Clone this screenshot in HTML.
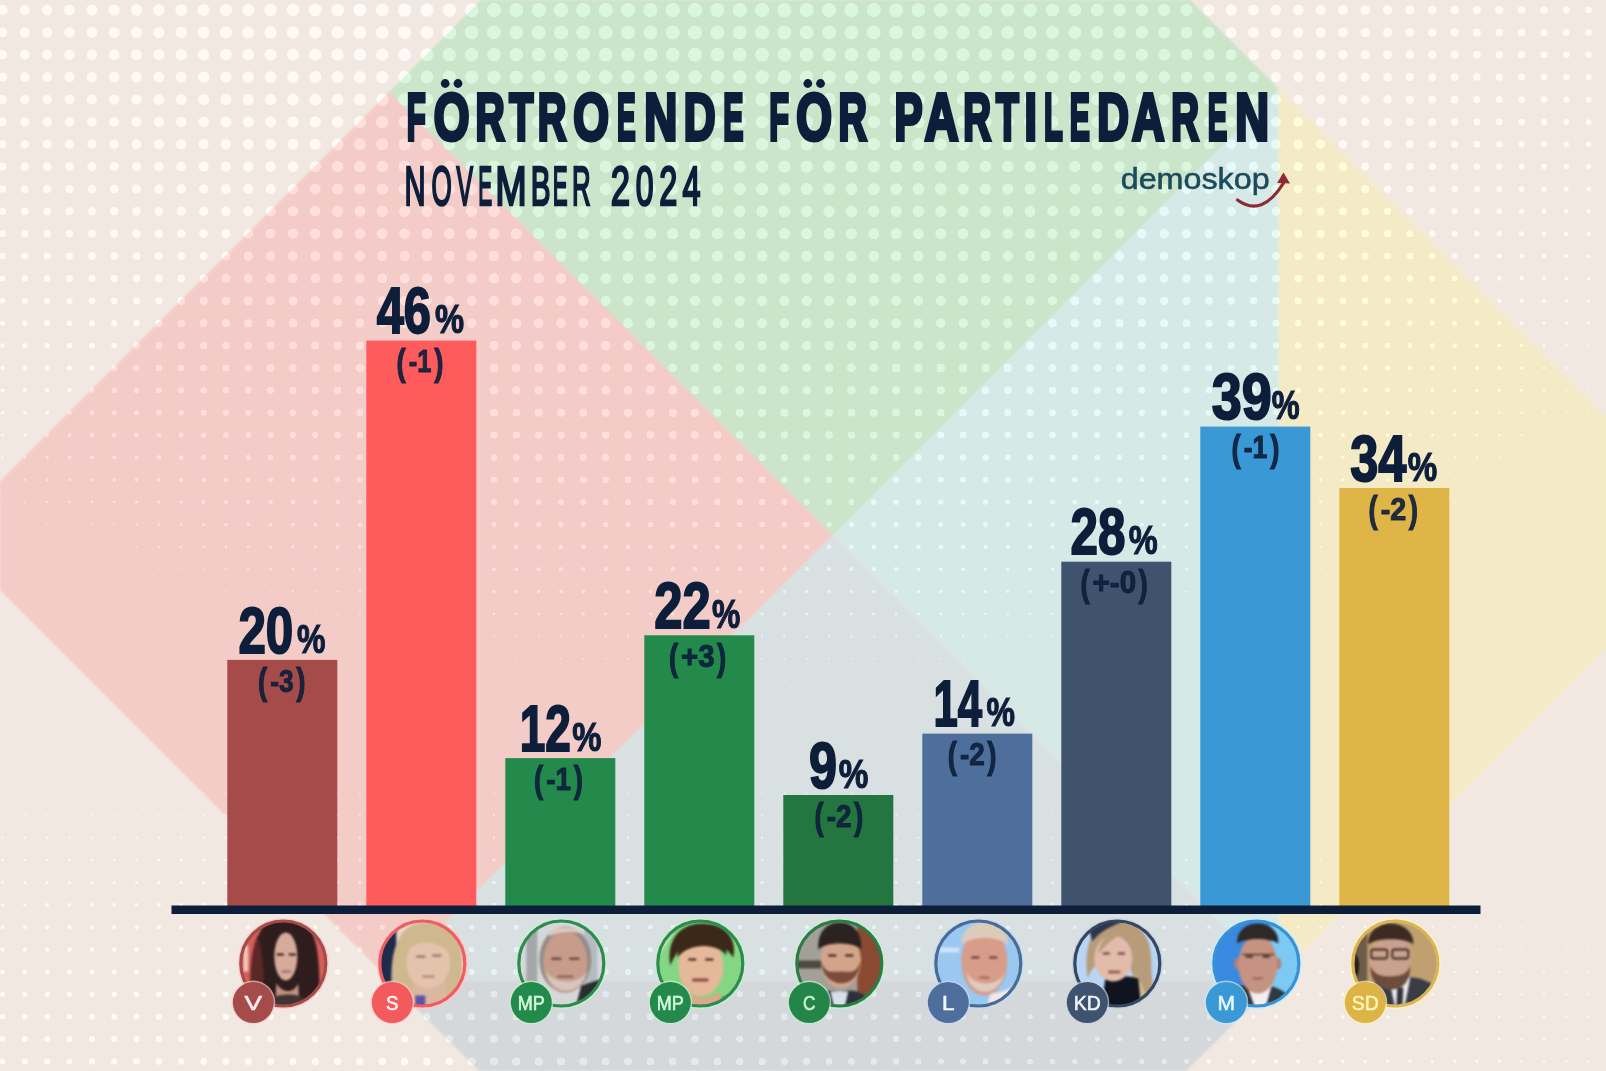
<!DOCTYPE html><html><head><meta charset="utf-8"><style>
html,body{margin:0;padding:0;width:1606px;height:1071px;overflow:hidden;background:#f1e8e2}
svg{position:absolute;left:0;top:0;display:block}.bg{filter:blur(1px)}.fg{will-change:transform}
</style></head><body>
<svg class="bg" width="1606" height="1071" viewBox="0 0 1606 1071">
<rect width="1606" height="1071" fill="#f1e8e2"/><polygon points="835.5,-354.5 1278.9,88.9 832.7,535.0 389.4,91.7" fill="#cae5ca"/><polygon points="389.4,91.7 832.7,535.0 388.9,978.9 -54.5,535.5" fill="#f3ccc7"/><polygon points="832.7,535.0 1276.9,979.5 832.0,1422.0 388.9,978.9" fill="#d9e0e2"/><polygon points="388.9,981.0 1276.9,981.0 832.0,1422.0" fill="#d4d8db"/><polygon points="1278.5,88.5 1278.5,980.8 832.7,535.0" fill="#d6e9e6"/><polygon points="1278.5,88.5 1722.0,532.0 1278.5,975.5" fill="#f4ebc6"/>
</svg>
<svg class="dots" width="1606" height="1071" viewBox="0 0 1606 1071"><defs><filter id="db" x="0" y="0" width="1606" height="1071" filterUnits="userSpaceOnUse" color-interpolation-filters="sRGB"><feGaussianBlur stdDeviation="0.75"/></filter><clipPath id="cg"><polygon points="835.5,-354.5 1278.9,88.9 832.7,535.0 389.4,91.7"/></clipPath><clipPath id="cp"><polygon points="389.4,91.7 832.7,535.0 388.9,978.9 -54.5,535.5"/></clipPath><clipPath id="cu"><polygon points="832.7,535.0 1276.9,979.5 832.0,1422.0 388.9,978.9"/></clipPath><clipPath id="cl"><polygon points="388.9,981.0 1276.9,981.0 832.0,1422.0"/></clipPath><clipPath id="cm"><polygon points="1278.5,88.5 1278.5,980.8 832.7,535.0"/></clipPath><clipPath id="cy"><polygon points="1278.5,88.5 1722.0,532.0 1278.5,975.5"/></clipPath><g id="dd" fill="none" stroke-linecap="round"><path d="M1611.0 412.7h0M158.9 569.2h0M292.9 614.0h0M1231.2 614.0h0M382.3 636.4h0M739.7 681.1h0M762.1 681.1h0M784.4 681.1h0M806.7 681.1h0M918.4 793.0h0M940.8 793.0h0M1164.2 815.3h0M1320.6 837.7h0M1454.6 860.1h0M1544.0 882.4h0" stroke-width="0.75"/><path d="M1566.3 435.0h0M1544.0 457.4h0M1499.3 479.8h0M2.5 502.1h0M1476.9 502.1h0M47.2 524.5h0M1432.3 524.5h0M114.2 546.9h0M1387.6 546.9h0M181.2 569.2h0M1320.6 569.2h0M1342.9 569.2h0M225.9 591.6h0M248.2 591.6h0M1275.9 591.6h0M315.3 614.0h0M1208.9 614.0h0M404.6 636.4h0M427.0 636.4h0M1119.5 636.4h0M1141.8 636.4h0M516.3 658.7h0M538.7 658.7h0M561.0 658.7h0M985.5 658.7h0M1007.8 658.7h0M1030.1 658.7h0M2.5 793.0h0M24.8 793.0h0M47.2 793.0h0M69.5 793.0h0M91.9 793.0h0M114.2 793.0h0M136.5 793.0h0M158.9 793.0h0M739.7 793.0h0M762.1 793.0h0M784.4 793.0h0M806.7 793.0h0M829.1 793.0h0M851.4 793.0h0M873.8 793.0h0M896.1 793.0h0M1052.5 815.3h0M1074.8 815.3h0M1097.2 815.3h0M1119.5 815.3h0M1141.8 815.3h0M1231.2 837.7h0M1253.5 837.7h0M1275.9 837.7h0M1298.2 837.7h0M1365.2 860.1h0M1387.6 860.1h0M1409.9 860.1h0M1432.3 860.1h0M1476.9 882.4h0M1499.3 882.4h0M1521.6 882.4h0M1566.3 904.8h0M1588.6 904.8h0M1611.0 904.8h0" stroke-width="1.00"/><path d="M1611.0 390.3h0M1588.6 412.7h0M1544.0 435.0h0M1521.6 457.4h0M1476.9 479.8h0M24.8 502.1h0M1454.6 502.1h0M69.5 524.5h0M1409.9 524.5h0M136.5 546.9h0M1365.2 546.9h0M203.6 569.2h0M1298.2 569.2h0M270.6 591.6h0M1231.2 591.6h0M1253.5 591.6h0M337.6 614.0h0M359.9 614.0h0M1164.2 614.0h0M1186.5 614.0h0M449.3 636.4h0M471.6 636.4h0M1074.8 636.4h0M1097.2 636.4h0M583.3 658.7h0M605.7 658.7h0M628.0 658.7h0M650.4 658.7h0M672.7 658.7h0M873.8 658.7h0M896.1 658.7h0M918.4 658.7h0M940.8 658.7h0M963.1 658.7h0M181.2 793.0h0M203.6 793.0h0M225.9 793.0h0M248.2 793.0h0M270.6 793.0h0M292.9 793.0h0M315.3 793.0h0M337.6 793.0h0M359.9 793.0h0M382.3 793.0h0M404.6 793.0h0M427.0 793.0h0M449.3 793.0h0M471.6 793.0h0M494.0 793.0h0M516.3 793.0h0M538.7 793.0h0M561.0 793.0h0M583.3 793.0h0M605.7 793.0h0M628.0 793.0h0M650.4 793.0h0M672.7 793.0h0M695.0 793.0h0M717.4 793.0h0M918.4 815.3h0M940.8 815.3h0M963.1 815.3h0M985.5 815.3h0M1007.8 815.3h0M1030.1 815.3h0M1141.8 837.7h0M1164.2 837.7h0M1186.5 837.7h0M1208.9 837.7h0M1298.2 860.1h0M1320.6 860.1h0M1342.9 860.1h0M1409.9 882.4h0M1432.3 882.4h0M1454.6 882.4h0M1499.3 904.8h0M1521.6 904.8h0M1544.0 904.8h0M1566.3 927.2h0M1588.6 927.2h0M1611.0 927.2h0" stroke-width="1.25"/><path d="M1611.0 367.9h0M1588.6 390.3h0M1566.3 412.7h0M1499.3 457.4h0M2.5 479.8h0M1454.6 479.8h0M47.2 502.1h0M1432.3 502.1h0M91.9 524.5h0M114.2 524.5h0M1387.6 524.5h0M158.9 546.9h0M1320.6 546.9h0M1342.9 546.9h0M225.9 569.2h0M1275.9 569.2h0M292.9 591.6h0M315.3 591.6h0M1208.9 591.6h0M382.3 614.0h0M404.6 614.0h0M1119.5 614.0h0M1141.8 614.0h0M494.0 636.4h0M516.3 636.4h0M538.7 636.4h0M1007.8 636.4h0M1030.1 636.4h0M1052.5 636.4h0M695.0 658.7h0M717.4 658.7h0M739.7 658.7h0M762.1 658.7h0M784.4 658.7h0M806.7 658.7h0M829.1 658.7h0M851.4 658.7h0M2.5 815.3h0M24.8 815.3h0M47.2 815.3h0M69.5 815.3h0M91.9 815.3h0M114.2 815.3h0M136.5 815.3h0M158.9 815.3h0M762.1 815.3h0M784.4 815.3h0M806.7 815.3h0M829.1 815.3h0M851.4 815.3h0M873.8 815.3h0M896.1 815.3h0M1030.1 837.7h0M1052.5 837.7h0M1074.8 837.7h0M1097.2 837.7h0M1119.5 837.7h0M1208.9 860.1h0M1231.2 860.1h0M1253.5 860.1h0M1275.9 860.1h0M1342.9 882.4h0M1365.2 882.4h0M1387.6 882.4h0M1432.3 904.8h0M1454.6 904.8h0M1476.9 904.8h0M1521.6 927.2h0M1544.0 927.2h0M1588.6 949.5h0M1611.0 949.5h0" stroke-width="1.50"/><path d="M1566.3 390.3h0M1544.0 412.7h0M1521.6 435.0h0M1476.9 457.4h0M24.8 479.8h0M69.5 502.1h0M1409.9 502.1h0M136.5 524.5h0M1365.2 524.5h0M181.2 546.9h0M1298.2 546.9h0M248.2 569.2h0M1253.5 569.2h0M337.6 591.6h0M1164.2 591.6h0M1186.5 591.6h0M427.0 614.0h0M449.3 614.0h0M1074.8 614.0h0M1097.2 614.0h0M561.0 636.4h0M583.3 636.4h0M605.7 636.4h0M918.4 636.4h0M940.8 636.4h0M963.1 636.4h0M985.5 636.4h0M181.2 815.3h0M203.6 815.3h0M225.9 815.3h0M248.2 815.3h0M270.6 815.3h0M292.9 815.3h0M315.3 815.3h0M337.6 815.3h0M359.9 815.3h0M382.3 815.3h0M404.6 815.3h0M427.0 815.3h0M449.3 815.3h0M471.6 815.3h0M494.0 815.3h0M516.3 815.3h0M538.7 815.3h0M561.0 815.3h0M583.3 815.3h0M605.7 815.3h0M628.0 815.3h0M650.4 815.3h0M672.7 815.3h0M695.0 815.3h0M717.4 815.3h0M739.7 815.3h0M918.4 837.7h0M940.8 837.7h0M963.1 837.7h0M985.5 837.7h0M1007.8 837.7h0M1119.5 860.1h0M1141.8 860.1h0M1164.2 860.1h0M1186.5 860.1h0M1253.5 882.4h0M1275.9 882.4h0M1298.2 882.4h0M1320.6 882.4h0M1365.2 904.8h0M1387.6 904.8h0M1409.9 904.8h0M1454.6 927.2h0M1476.9 927.2h0M1499.3 927.2h0M1521.6 949.5h0M1544.0 949.5h0M1566.3 949.5h0M1566.3 971.9h0M1588.6 971.9h0M1611.0 971.9h0M1611.0 994.3h0" stroke-width="1.75"/><path d="M1611.0 345.6h0M1588.6 367.9h0M1521.6 412.7h0M1499.3 435.0h0M2.5 457.4h0M1454.6 457.4h0M47.2 479.8h0M1432.3 479.8h0M91.9 502.1h0M1387.6 502.1h0M158.9 524.5h0M1320.6 524.5h0M1342.9 524.5h0M203.6 546.9h0M225.9 546.9h0M1275.9 546.9h0M270.6 569.2h0M292.9 569.2h0M1208.9 569.2h0M1231.2 569.2h0M359.9 591.6h0M382.3 591.6h0M1141.8 591.6h0M471.6 614.0h0M494.0 614.0h0M1030.1 614.0h0M1052.5 614.0h0M628.0 636.4h0M650.4 636.4h0M672.7 636.4h0M695.0 636.4h0M717.4 636.4h0M739.7 636.4h0M762.1 636.4h0M784.4 636.4h0M806.7 636.4h0M829.1 636.4h0M851.4 636.4h0M873.8 636.4h0M896.1 636.4h0M2.5 837.7h0M24.8 837.7h0M47.2 837.7h0M69.5 837.7h0M91.9 837.7h0M114.2 837.7h0M136.5 837.7h0M762.1 837.7h0M784.4 837.7h0M806.7 837.7h0M829.1 837.7h0M851.4 837.7h0M873.8 837.7h0M896.1 837.7h0M1030.1 860.1h0M1052.5 860.1h0M1074.8 860.1h0M1097.2 860.1h0M1186.5 882.4h0M1208.9 882.4h0M1231.2 882.4h0M1298.2 904.8h0M1320.6 904.8h0M1342.9 904.8h0M1387.6 927.2h0M1409.9 927.2h0M1432.3 927.2h0M1454.6 949.5h0M1476.9 949.5h0M1499.3 949.5h0M1521.6 971.9h0M1544.0 971.9h0M1566.3 994.3h0M1588.6 994.3h0M1588.6 1016.7h0M1611.0 1016.7h0M1611.0 1039.0h0" stroke-width="2.00"/><path d="M1611.0 323.2h0M1588.6 345.6h0M1566.3 367.9h0M1544.0 390.3h0M1499.3 412.7h0M1476.9 435.0h0M24.8 457.4h0M1432.3 457.4h0M69.5 479.8h0M1409.9 479.8h0M114.2 502.1h0M1365.2 502.1h0M181.2 524.5h0M1298.2 524.5h0M248.2 546.9h0M1253.5 546.9h0M315.3 569.2h0M1186.5 569.2h0M404.6 591.6h0M427.0 591.6h0M1097.2 591.6h0M1119.5 591.6h0M516.3 614.0h0M538.7 614.0h0M561.0 614.0h0M963.1 614.0h0M985.5 614.0h0M1007.8 614.0h0M158.9 837.7h0M181.2 837.7h0M203.6 837.7h0M225.9 837.7h0M248.2 837.7h0M270.6 837.7h0M292.9 837.7h0M315.3 837.7h0M337.6 837.7h0M359.9 837.7h0M382.3 837.7h0M404.6 837.7h0M427.0 837.7h0M449.3 837.7h0M471.6 837.7h0M494.0 837.7h0M516.3 837.7h0M538.7 837.7h0M561.0 837.7h0M583.3 837.7h0M605.7 837.7h0M628.0 837.7h0M650.4 837.7h0M672.7 837.7h0M695.0 837.7h0M717.4 837.7h0M739.7 837.7h0M918.4 860.1h0M940.8 860.1h0M963.1 860.1h0M985.5 860.1h0M1007.8 860.1h0M1097.2 882.4h0M1119.5 882.4h0M1141.8 882.4h0M1164.2 882.4h0M1231.2 904.8h0M1253.5 904.8h0M1275.9 904.8h0M1320.6 927.2h0M1342.9 927.2h0M1365.2 927.2h0M1409.9 949.5h0M1432.3 949.5h0M1454.6 971.9h0M1476.9 971.9h0M1499.3 971.9h0M1521.6 994.3h0M1544.0 994.3h0M1544.0 1016.7h0M1566.3 1016.7h0M1566.3 1039.0h0M1588.6 1039.0h0M1588.6 1061.4h0M1611.0 1061.4h0M1588.6 1083.8h0M1611.0 1083.8h0" stroke-width="2.25"/><path d="M1544.0 367.9h0M1521.6 390.3h0M2.5 435.0h0M1454.6 435.0h0M47.2 457.4h0M1409.9 457.4h0M91.9 479.8h0M1387.6 479.8h0M136.5 502.1h0M1320.6 502.1h0M1342.9 502.1h0M203.6 524.5h0M1275.9 524.5h0M270.6 546.9h0M1208.9 546.9h0M1231.2 546.9h0M337.6 569.2h0M359.9 569.2h0M1141.8 569.2h0M1164.2 569.2h0M449.3 591.6h0M471.6 591.6h0M1030.1 591.6h0M1052.5 591.6h0M1074.8 591.6h0M583.3 614.0h0M605.7 614.0h0M628.0 614.0h0M650.4 614.0h0M672.7 614.0h0M695.0 614.0h0M829.1 614.0h0M851.4 614.0h0M873.8 614.0h0M896.1 614.0h0M918.4 614.0h0M940.8 614.0h0M2.5 860.1h0M24.8 860.1h0M47.2 860.1h0M69.5 860.1h0M91.9 860.1h0M114.2 860.1h0M136.5 860.1h0M762.1 860.1h0M784.4 860.1h0M806.7 860.1h0M829.1 860.1h0M851.4 860.1h0M873.8 860.1h0M896.1 860.1h0M1007.8 882.4h0M1030.1 882.4h0M1052.5 882.4h0M1074.8 882.4h0M1164.2 904.8h0M1186.5 904.8h0M1208.9 904.8h0M1253.5 927.2h0M1275.9 927.2h0M1298.2 927.2h0M1342.9 949.5h0M1365.2 949.5h0M1387.6 949.5h0M1409.9 971.9h0M1432.3 971.9h0M1454.6 994.3h0M1476.9 994.3h0M1499.3 994.3h0M1499.3 1016.7h0M1521.6 1016.7h0M1521.6 1039.0h0M1544.0 1039.0h0M1521.6 1061.4h0M1544.0 1061.4h0M1566.3 1061.4h0M1544.0 1083.8h0M1566.3 1083.8h0" stroke-width="2.50"/><path d="M1611.0 300.8h0M1588.6 323.2h0M1566.3 345.6h0M1499.3 390.3h0M1476.9 412.7h0M1432.3 435.0h0M69.5 457.4h0M1387.6 457.4h0M114.2 479.8h0M1342.9 479.8h0M1365.2 479.8h0M158.9 502.1h0M181.2 502.1h0M1298.2 502.1h0M225.9 524.5h0M1253.5 524.5h0M292.9 546.9h0M315.3 546.9h0M1186.5 546.9h0M382.3 569.2h0M404.6 569.2h0M1097.2 569.2h0M1119.5 569.2h0M494.0 591.6h0M516.3 591.6h0M538.7 591.6h0M985.5 591.6h0M1007.8 591.6h0M717.4 614.0h0M739.7 614.0h0M762.1 614.0h0M784.4 614.0h0M806.7 614.0h0M158.9 860.1h0M181.2 860.1h0M203.6 860.1h0M225.9 860.1h0M248.2 860.1h0M270.6 860.1h0M292.9 860.1h0M315.3 860.1h0M337.6 860.1h0M359.9 860.1h0M382.3 860.1h0M404.6 860.1h0M427.0 860.1h0M449.3 860.1h0M471.6 860.1h0M494.0 860.1h0M516.3 860.1h0M538.7 860.1h0M561.0 860.1h0M583.3 860.1h0M605.7 860.1h0M628.0 860.1h0M650.4 860.1h0M672.7 860.1h0M695.0 860.1h0M717.4 860.1h0M739.7 860.1h0M2.5 882.4h0M896.1 882.4h0M918.4 882.4h0M940.8 882.4h0M963.1 882.4h0M985.5 882.4h0M1074.8 904.8h0M1097.2 904.8h0M1119.5 904.8h0M1141.8 904.8h0M1186.5 927.2h0M1208.9 927.2h0M1231.2 927.2h0M1275.9 949.5h0M1298.2 949.5h0M1320.6 949.5h0M1342.9 971.9h0M1365.2 971.9h0M1387.6 971.9h0M1409.9 994.3h0M1432.3 994.3h0M1432.3 1016.7h0M1454.6 1016.7h0M1476.9 1016.7h0M1476.9 1039.0h0M1499.3 1039.0h0M1476.9 1061.4h0M1499.3 1061.4h0M1476.9 1083.8h0M1499.3 1083.8h0M1521.6 1083.8h0" stroke-width="2.75"/><path d="M1611.0 278.4h0M1588.6 300.8h0M1566.3 323.2h0M1544.0 345.6h0M1521.6 367.9h0M1476.9 390.3h0M1454.6 412.7h0M24.8 435.0h0M1409.9 435.0h0M91.9 457.4h0M1365.2 457.4h0M136.5 479.8h0M1320.6 479.8h0M203.6 502.1h0M1275.9 502.1h0M248.2 524.5h0M270.6 524.5h0M1208.9 524.5h0M1231.2 524.5h0M337.6 546.9h0M359.9 546.9h0M1141.8 546.9h0M1164.2 546.9h0M427.0 569.2h0M449.3 569.2h0M1052.5 569.2h0M1074.8 569.2h0M561.0 591.6h0M583.3 591.6h0M605.7 591.6h0M628.0 591.6h0M896.1 591.6h0M918.4 591.6h0M940.8 591.6h0M963.1 591.6h0M24.8 882.4h0M47.2 882.4h0M69.5 882.4h0M91.9 882.4h0M114.2 882.4h0M136.5 882.4h0M762.1 882.4h0M784.4 882.4h0M806.7 882.4h0M829.1 882.4h0M851.4 882.4h0M873.8 882.4h0M985.5 904.8h0M1007.8 904.8h0M1030.1 904.8h0M1052.5 904.8h0M1119.5 927.2h0M1141.8 927.2h0M1164.2 927.2h0M1231.2 949.5h0M1253.5 949.5h0M1298.2 971.9h0M1320.6 971.9h0M1342.9 994.3h0M1365.2 994.3h0M1387.6 994.3h0M1387.6 1016.7h0M1409.9 1016.7h0M1409.9 1039.0h0M1432.3 1039.0h0M1454.6 1039.0h0M1432.3 1061.4h0M1454.6 1061.4h0M1432.3 1083.8h0M1454.6 1083.8h0" stroke-width="3.00"/><path d="M1566.3 300.8h0M1544.0 323.2h0M1521.6 345.6h0M1499.3 367.9h0M1454.6 390.3h0M2.5 412.7h0M1432.3 412.7h0M47.2 435.0h0M1387.6 435.0h0M114.2 457.4h0M1342.9 457.4h0M158.9 479.8h0M1298.2 479.8h0M225.9 502.1h0M1253.5 502.1h0M292.9 524.5h0M1186.5 524.5h0M382.3 546.9h0M1097.2 546.9h0M1119.5 546.9h0M471.6 569.2h0M494.0 569.2h0M516.3 569.2h0M985.5 569.2h0M1007.8 569.2h0M1030.1 569.2h0M650.4 591.6h0M672.7 591.6h0M695.0 591.6h0M717.4 591.6h0M739.7 591.6h0M762.1 591.6h0M784.4 591.6h0M806.7 591.6h0M829.1 591.6h0M851.4 591.6h0M873.8 591.6h0M158.9 882.4h0M181.2 882.4h0M203.6 882.4h0M225.9 882.4h0M248.2 882.4h0M270.6 882.4h0M292.9 882.4h0M315.3 882.4h0M337.6 882.4h0M359.9 882.4h0M382.3 882.4h0M404.6 882.4h0M427.0 882.4h0M449.3 882.4h0M471.6 882.4h0M494.0 882.4h0M516.3 882.4h0M538.7 882.4h0M561.0 882.4h0M583.3 882.4h0M605.7 882.4h0M628.0 882.4h0M650.4 882.4h0M672.7 882.4h0M695.0 882.4h0M717.4 882.4h0M739.7 882.4h0M2.5 904.8h0M24.8 904.8h0M896.1 904.8h0M918.4 904.8h0M940.8 904.8h0M963.1 904.8h0M1052.5 927.2h0M1074.8 927.2h0M1097.2 927.2h0M1164.2 949.5h0M1186.5 949.5h0M1208.9 949.5h0M1231.2 971.9h0M1253.5 971.9h0M1275.9 971.9h0M1298.2 994.3h0M1320.6 994.3h0M1342.9 1016.7h0M1365.2 1016.7h0M1365.2 1039.0h0M1387.6 1039.0h0M1387.6 1061.4h0M1409.9 1061.4h0M1387.6 1083.8h0M1409.9 1083.8h0" stroke-width="3.25"/><path d="M1611.0 256.1h0M1588.6 278.4h0M1499.3 345.6h0M1476.9 367.9h0M1432.3 390.3h0M24.8 412.7h0M1409.9 412.7h0M69.5 435.0h0M1365.2 435.0h0M136.5 457.4h0M1320.6 457.4h0M181.2 479.8h0M1275.9 479.8h0M248.2 502.1h0M1208.9 502.1h0M1231.2 502.1h0M315.3 524.5h0M337.6 524.5h0M1141.8 524.5h0M1164.2 524.5h0M404.6 546.9h0M427.0 546.9h0M1052.5 546.9h0M1074.8 546.9h0M538.7 569.2h0M561.0 569.2h0M583.3 569.2h0M918.4 569.2h0M940.8 569.2h0M963.1 569.2h0M47.2 904.8h0M69.5 904.8h0M91.9 904.8h0M114.2 904.8h0M136.5 904.8h0M762.1 904.8h0M784.4 904.8h0M806.7 904.8h0M829.1 904.8h0M851.4 904.8h0M873.8 904.8h0M963.1 927.2h0M985.5 927.2h0M1007.8 927.2h0M1030.1 927.2h0M1097.2 949.5h0M1119.5 949.5h0M1141.8 949.5h0M1164.2 971.9h0M1186.5 971.9h0M1208.9 971.9h0M1231.2 994.3h0M1253.5 994.3h0M1275.9 994.3h0M1275.9 1016.7h0M1298.2 1016.7h0M1320.6 1016.7h0M1320.6 1039.0h0M1342.9 1039.0h0M1342.9 1061.4h0M1365.2 1061.4h0M1342.9 1083.8h0M1365.2 1083.8h0" stroke-width="3.50"/><path d="M1611.0 233.7h0M1588.6 256.1h0M1566.3 278.4h0M1544.0 300.8h0M1521.6 323.2h0M1476.9 345.6h0M1454.6 367.9h0M2.5 390.3h0M47.2 412.7h0M1387.6 412.7h0M91.9 435.0h0M114.2 435.0h0M1342.9 435.0h0M158.9 457.4h0M1298.2 457.4h0M203.6 479.8h0M225.9 479.8h0M1253.5 479.8h0M270.6 502.1h0M292.9 502.1h0M1186.5 502.1h0M359.9 524.5h0M382.3 524.5h0M1097.2 524.5h0M1119.5 524.5h0M449.3 546.9h0M471.6 546.9h0M494.0 546.9h0M1007.8 546.9h0M1030.1 546.9h0M605.7 569.2h0M628.0 569.2h0M650.4 569.2h0M672.7 569.2h0M695.0 569.2h0M717.4 569.2h0M739.7 569.2h0M762.1 569.2h0M784.4 569.2h0M806.7 569.2h0M829.1 569.2h0M851.4 569.2h0M873.8 569.2h0M896.1 569.2h0M158.9 904.8h0M181.2 904.8h0M203.6 904.8h0M225.9 904.8h0M248.2 904.8h0M270.6 904.8h0M292.9 904.8h0M315.3 904.8h0M337.6 904.8h0M359.9 904.8h0M538.7 904.8h0M561.0 904.8h0M583.3 904.8h0M605.7 904.8h0M628.0 904.8h0M650.4 904.8h0M672.7 904.8h0M695.0 904.8h0M717.4 904.8h0M739.7 904.8h0M2.5 927.2h0M24.8 927.2h0M873.8 927.2h0M896.1 927.2h0M918.4 927.2h0M940.8 927.2h0M1007.8 949.5h0M1030.1 949.5h0M1052.5 949.5h0M1074.8 949.5h0M1119.5 971.9h0M1141.8 971.9h0M1186.5 994.3h0M1208.9 994.3h0M1231.2 1016.7h0M1253.5 1016.7h0M1253.5 1039.0h0M1275.9 1039.0h0M1298.2 1039.0h0M1275.9 1061.4h0M1298.2 1061.4h0M1320.6 1061.4h0M1275.9 1083.8h0M1298.2 1083.8h0M1320.6 1083.8h0" stroke-width="3.75"/><path d="M1611.0 211.3h0M1588.6 233.7h0M1566.3 256.1h0M1544.0 278.4h0M1521.6 300.8h0M1499.3 323.2h0M1432.3 367.9h0M24.8 390.3h0M1409.9 390.3h0M69.5 412.7h0M1365.2 412.7h0M136.5 435.0h0M1320.6 435.0h0M181.2 457.4h0M1275.9 457.4h0M248.2 479.8h0M1208.9 479.8h0M1231.2 479.8h0M315.3 502.1h0M337.6 502.1h0M1141.8 502.1h0M1164.2 502.1h0M404.6 524.5h0M427.0 524.5h0M1052.5 524.5h0M1074.8 524.5h0M516.3 546.9h0M538.7 546.9h0M561.0 546.9h0M940.8 546.9h0M963.1 546.9h0M985.5 546.9h0M382.3 904.8h0M404.6 904.8h0M427.0 904.8h0M449.3 904.8h0M471.6 904.8h0M494.0 904.8h0M516.3 904.8h0M47.2 927.2h0M69.5 927.2h0M91.9 927.2h0M114.2 927.2h0M136.5 927.2h0M762.1 927.2h0M784.4 927.2h0M806.7 927.2h0M829.1 927.2h0M851.4 927.2h0M940.8 949.5h0M963.1 949.5h0M985.5 949.5h0M1052.5 971.9h0M1074.8 971.9h0M1097.2 971.9h0M1119.5 994.3h0M1141.8 994.3h0M1164.2 994.3h0M1186.5 1016.7h0M1208.9 1016.7h0M1208.9 1039.0h0M1231.2 1039.0h0M1231.2 1061.4h0M1253.5 1061.4h0M1231.2 1083.8h0M1253.5 1083.8h0" stroke-width="4.00"/><path d="M1611.0 189.0h0M1588.6 211.3h0M1521.6 278.4h0M1499.3 300.8h0M1476.9 323.2h0M1454.6 345.6h0M2.5 367.9h0M1409.9 367.9h0M47.2 390.3h0M1387.6 390.3h0M91.9 412.7h0M1342.9 412.7h0M158.9 435.0h0M1298.2 435.0h0M203.6 457.4h0M225.9 457.4h0M1231.2 457.4h0M1253.5 457.4h0M270.6 479.8h0M292.9 479.8h0M1186.5 479.8h0M359.9 502.1h0M1097.2 502.1h0M1119.5 502.1h0M449.3 524.5h0M471.6 524.5h0M1007.8 524.5h0M1030.1 524.5h0M583.3 546.9h0M605.7 546.9h0M628.0 546.9h0M650.4 546.9h0M672.7 546.9h0M695.0 546.9h0M717.4 546.9h0M762.1 546.9h0M784.4 546.9h0M806.7 546.9h0M829.1 546.9h0M851.4 546.9h0M873.8 546.9h0M896.1 546.9h0M918.4 546.9h0M158.9 927.2h0M181.2 927.2h0M203.6 927.2h0M225.9 927.2h0M248.2 927.2h0M270.6 927.2h0M292.9 927.2h0M315.3 927.2h0M337.6 927.2h0M561.0 927.2h0M583.3 927.2h0M605.7 927.2h0M628.0 927.2h0M650.4 927.2h0M672.7 927.2h0M695.0 927.2h0M717.4 927.2h0M739.7 927.2h0M2.5 949.5h0M24.8 949.5h0M47.2 949.5h0M851.4 949.5h0M873.8 949.5h0M896.1 949.5h0M918.4 949.5h0M985.5 971.9h0M1007.8 971.9h0M1030.1 971.9h0M1074.8 994.3h0M1097.2 994.3h0M1119.5 1016.7h0M1141.8 1016.7h0M1164.2 1016.7h0M1164.2 1039.0h0M1186.5 1039.0h0M1186.5 1061.4h0M1208.9 1061.4h0M1186.5 1083.8h0M1208.9 1083.8h0" stroke-width="4.25"/><path d="M1611.0 166.6h0M1566.3 233.7h0M1544.0 256.1h0M1476.9 300.8h0M1454.6 323.2h0M1432.3 345.6h0M24.8 367.9h0M1387.6 367.9h0M69.5 390.3h0M1365.2 390.3h0M114.2 412.7h0M136.5 412.7h0M1320.6 412.7h0M181.2 435.0h0M1275.9 435.0h0M248.2 457.4h0M1208.9 457.4h0M315.3 479.8h0M1141.8 479.8h0M1164.2 479.8h0M382.3 502.1h0M404.6 502.1h0M1052.5 502.1h0M1074.8 502.1h0M494.0 524.5h0M516.3 524.5h0M538.7 524.5h0M940.8 524.5h0M963.1 524.5h0M985.5 524.5h0M739.7 546.9h0M359.9 927.2h0M382.3 927.2h0M404.6 927.2h0M427.0 927.2h0M449.3 927.2h0M471.6 927.2h0M494.0 927.2h0M516.3 927.2h0M538.7 927.2h0M69.5 949.5h0M91.9 949.5h0M114.2 949.5h0M136.5 949.5h0M158.9 949.5h0M739.7 949.5h0M762.1 949.5h0M784.4 949.5h0M806.7 949.5h0M829.1 949.5h0M2.5 971.9h0M896.1 971.9h0M918.4 971.9h0M940.8 971.9h0M963.1 971.9h0M1007.8 994.3h0M1030.1 994.3h0M1052.5 994.3h0M1074.8 1016.7h0M1097.2 1016.7h0M1097.2 1039.0h0M1119.5 1039.0h0M1141.8 1039.0h0M1119.5 1061.4h0M1141.8 1061.4h0M1164.2 1061.4h0M1141.8 1083.8h0M1164.2 1083.8h0" stroke-width="4.50"/><path d="M1611.0 144.2h0M1588.6 189.0h0M1566.3 211.3h0M1544.0 233.7h0M1521.6 256.1h0M1499.3 278.4h0M1432.3 323.2h0M2.5 345.6h0M1409.9 345.6h0M47.2 367.9h0M1365.2 367.9h0M91.9 390.3h0M1320.6 390.3h0M1342.9 390.3h0M158.9 412.7h0M1275.9 412.7h0M1298.2 412.7h0M203.6 435.0h0M1231.2 435.0h0M1253.5 435.0h0M270.6 457.4h0M1186.5 457.4h0M337.6 479.8h0M359.9 479.8h0M1097.2 479.8h0M1119.5 479.8h0M427.0 502.1h0M449.3 502.1h0M471.6 502.1h0M1007.8 502.1h0M1030.1 502.1h0M561.0 524.5h0M583.3 524.5h0M605.7 524.5h0M628.0 524.5h0M650.4 524.5h0M829.1 524.5h0M851.4 524.5h0M873.8 524.5h0M896.1 524.5h0M918.4 524.5h0M181.2 949.5h0M203.6 949.5h0M225.9 949.5h0M248.2 949.5h0M270.6 949.5h0M292.9 949.5h0M315.3 949.5h0M583.3 949.5h0M605.7 949.5h0M628.0 949.5h0M650.4 949.5h0M672.7 949.5h0M695.0 949.5h0M717.4 949.5h0M24.8 971.9h0M47.2 971.9h0M69.5 971.9h0M829.1 971.9h0M851.4 971.9h0M873.8 971.9h0M940.8 994.3h0M963.1 994.3h0M985.5 994.3h0M1007.8 1016.7h0M1030.1 1016.7h0M1052.5 1016.7h0M1052.5 1039.0h0M1074.8 1039.0h0M1074.8 1061.4h0M1097.2 1061.4h0M1074.8 1083.8h0M1097.2 1083.8h0M1119.5 1083.8h0" stroke-width="4.75"/><path d="M1588.6 166.6h0M1566.3 189.0h0M1544.0 211.3h0M1521.6 233.7h0M1499.3 256.1h0M1476.9 278.4h0M1454.6 300.8h0M2.5 323.2h0M1409.9 323.2h0M24.8 345.6h0M1387.6 345.6h0M69.5 367.9h0M1342.9 367.9h0M114.2 390.3h0M136.5 390.3h0M1298.2 390.3h0M181.2 412.7h0M1253.5 412.7h0M225.9 435.0h0M248.2 435.0h0M1208.9 435.0h0M292.9 457.4h0M315.3 457.4h0M1141.8 457.4h0M1164.2 457.4h0M382.3 479.8h0M404.6 479.8h0M1052.5 479.8h0M1074.8 479.8h0M494.0 502.1h0M516.3 502.1h0M538.7 502.1h0M940.8 502.1h0M963.1 502.1h0M985.5 502.1h0M672.7 524.5h0M695.0 524.5h0M717.4 524.5h0M739.7 524.5h0M762.1 524.5h0M784.4 524.5h0M806.7 524.5h0M337.6 949.5h0M359.9 949.5h0M382.3 949.5h0M404.6 949.5h0M427.0 949.5h0M449.3 949.5h0M471.6 949.5h0M494.0 949.5h0M516.3 949.5h0M538.7 949.5h0M561.0 949.5h0M91.9 971.9h0M114.2 971.9h0M136.5 971.9h0M158.9 971.9h0M739.7 971.9h0M762.1 971.9h0M784.4 971.9h0M806.7 971.9h0M2.5 994.3h0M24.8 994.3h0M873.8 994.3h0M896.1 994.3h0M918.4 994.3h0M963.1 1016.7h0M985.5 1016.7h0M1007.8 1039.0h0M1030.1 1039.0h0M1030.1 1061.4h0M1052.5 1061.4h0M1030.1 1083.8h0M1052.5 1083.8h0" stroke-width="5.00"/><path d="M1611.0 121.9h0M1588.6 144.2h0M1566.3 166.6h0M1544.0 189.0h0M1521.6 211.3h0M1499.3 233.7h0M1476.9 256.1h0M1454.6 278.4h0M1432.3 300.8h0M1387.6 323.2h0M47.2 345.6h0M1365.2 345.6h0M91.9 367.9h0M1320.6 367.9h0M158.9 390.3h0M1275.9 390.3h0M203.6 412.7h0M1231.2 412.7h0M270.6 435.0h0M1164.2 435.0h0M1186.5 435.0h0M337.6 457.4h0M359.9 457.4h0M1097.2 457.4h0M1119.5 457.4h0M427.0 479.8h0M449.3 479.8h0M1007.8 479.8h0M1030.1 479.8h0M561.0 502.1h0M583.3 502.1h0M605.7 502.1h0M628.0 502.1h0M851.4 502.1h0M873.8 502.1h0M896.1 502.1h0M918.4 502.1h0M181.2 971.9h0M203.6 971.9h0M225.9 971.9h0M248.2 971.9h0M270.6 971.9h0M292.9 971.9h0M605.7 971.9h0M628.0 971.9h0M650.4 971.9h0M672.7 971.9h0M695.0 971.9h0M717.4 971.9h0M47.2 994.3h0M69.5 994.3h0M91.9 994.3h0M806.7 994.3h0M829.1 994.3h0M851.4 994.3h0M2.5 1016.7h0M896.1 1016.7h0M918.4 1016.7h0M940.8 1016.7h0M940.8 1039.0h0M963.1 1039.0h0M985.5 1039.0h0M985.5 1061.4h0M1007.8 1061.4h0M985.5 1083.8h0M1007.8 1083.8h0" stroke-width="5.25"/><path d="M1611.0 77.1h0M1611.0 99.5h0M1588.6 121.9h0M1566.3 144.2h0M1544.0 166.6h0M1476.9 233.7h0M1454.6 256.1h0M1432.3 278.4h0M2.5 300.8h0M1409.9 300.8h0M24.8 323.2h0M1365.2 323.2h0M69.5 345.6h0M1342.9 345.6h0M114.2 367.9h0M136.5 367.9h0M1298.2 367.9h0M181.2 390.3h0M1253.5 390.3h0M225.9 412.7h0M248.2 412.7h0M1208.9 412.7h0M292.9 435.0h0M315.3 435.0h0M1141.8 435.0h0M382.3 457.4h0M404.6 457.4h0M1052.5 457.4h0M1074.8 457.4h0M471.6 479.8h0M494.0 479.8h0M516.3 479.8h0M940.8 479.8h0M963.1 479.8h0M985.5 479.8h0M650.4 502.1h0M672.7 502.1h0M695.0 502.1h0M717.4 502.1h0M739.7 502.1h0M762.1 502.1h0M784.4 502.1h0M806.7 502.1h0M829.1 502.1h0M315.3 971.9h0M337.6 971.9h0M359.9 971.9h0M382.3 971.9h0M404.6 971.9h0M427.0 971.9h0M449.3 971.9h0M471.6 971.9h0M494.0 971.9h0M516.3 971.9h0M538.7 971.9h0M561.0 971.9h0M583.3 971.9h0M114.2 994.3h0M136.5 994.3h0M158.9 994.3h0M181.2 994.3h0M717.4 994.3h0M739.7 994.3h0M762.1 994.3h0M784.4 994.3h0M24.8 1016.7h0M47.2 1016.7h0M69.5 1016.7h0M829.1 1016.7h0M851.4 1016.7h0M873.8 1016.7h0M2.5 1039.0h0M896.1 1039.0h0M918.4 1039.0h0M918.4 1061.4h0M940.8 1061.4h0M963.1 1061.4h0M940.8 1083.8h0M963.1 1083.8h0" stroke-width="5.50"/><path d="M1611.0 54.7h0M1588.6 99.5h0M1566.3 121.9h0M1521.6 189.0h0M1499.3 211.3h0M1432.3 256.1h0M1409.9 278.4h0M24.8 300.8h0M1387.6 300.8h0M47.2 323.2h0M69.5 323.2h0M1342.9 323.2h0M91.9 345.6h0M114.2 345.6h0M1320.6 345.6h0M158.9 367.9h0M1275.9 367.9h0M203.6 390.3h0M1231.2 390.3h0M270.6 412.7h0M1164.2 412.7h0M1186.5 412.7h0M337.6 435.0h0M359.9 435.0h0M1097.2 435.0h0M1119.5 435.0h0M427.0 457.4h0M449.3 457.4h0M1007.8 457.4h0M1030.1 457.4h0M538.7 479.8h0M561.0 479.8h0M583.3 479.8h0M605.7 479.8h0M851.4 479.8h0M873.8 479.8h0M896.1 479.8h0M918.4 479.8h0M203.6 994.3h0M225.9 994.3h0M248.2 994.3h0M270.6 994.3h0M292.9 994.3h0M605.7 994.3h0M628.0 994.3h0M650.4 994.3h0M672.7 994.3h0M695.0 994.3h0M91.9 1016.7h0M114.2 1016.7h0M136.5 1016.7h0M762.1 1016.7h0M784.4 1016.7h0M806.7 1016.7h0M24.8 1039.0h0M47.2 1039.0h0M69.5 1039.0h0M829.1 1039.0h0M851.4 1039.0h0M873.8 1039.0h0M2.5 1061.4h0M24.8 1061.4h0M873.8 1061.4h0M896.1 1061.4h0M2.5 1083.8h0M24.8 1083.8h0M896.1 1083.8h0M918.4 1083.8h0" stroke-width="5.75"/><path d="M1611.0 32.4h0M1588.6 77.1h0M1566.3 99.5h0M1544.0 144.2h0M1521.6 166.6h0M1499.3 189.0h0M1476.9 211.3h0M1454.6 233.7h0M2.5 278.4h0M1387.6 278.4h0M47.2 300.8h0M1365.2 300.8h0M91.9 323.2h0M1320.6 323.2h0M136.5 345.6h0M1275.9 345.6h0M1298.2 345.6h0M181.2 367.9h0M1231.2 367.9h0M1253.5 367.9h0M225.9 390.3h0M248.2 390.3h0M1186.5 390.3h0M1208.9 390.3h0M292.9 412.7h0M315.3 412.7h0M1119.5 412.7h0M1141.8 412.7h0M382.3 435.0h0M404.6 435.0h0M1052.5 435.0h0M1074.8 435.0h0M471.6 457.4h0M494.0 457.4h0M516.3 457.4h0M940.8 457.4h0M963.1 457.4h0M985.5 457.4h0M628.0 479.8h0M650.4 479.8h0M672.7 479.8h0M695.0 479.8h0M717.4 479.8h0M739.7 479.8h0M762.1 479.8h0M784.4 479.8h0M806.7 479.8h0M829.1 479.8h0M315.3 994.3h0M337.6 994.3h0M359.9 994.3h0M382.3 994.3h0M404.6 994.3h0M427.0 994.3h0M449.3 994.3h0M471.6 994.3h0M494.0 994.3h0M516.3 994.3h0M538.7 994.3h0M561.0 994.3h0M583.3 994.3h0M158.9 1016.7h0M181.2 1016.7h0M203.6 1016.7h0M695.0 1016.7h0M717.4 1016.7h0M739.7 1016.7h0M91.9 1039.0h0M114.2 1039.0h0M784.4 1039.0h0M806.7 1039.0h0M47.2 1061.4h0M69.5 1061.4h0M829.1 1061.4h0M851.4 1061.4h0M47.2 1083.8h0M69.5 1083.8h0M829.1 1083.8h0M851.4 1083.8h0M873.8 1083.8h0" stroke-width="6.00"/><path d="M1611.0 10.0h0M1588.6 54.7h0M1566.3 77.1h0M1544.0 121.9h0M1521.6 144.2h0M1499.3 166.6h0M1476.9 189.0h0M1454.6 211.3h0M1432.3 233.7h0M1409.9 256.1h0M24.8 278.4h0M1365.2 278.4h0M69.5 300.8h0M1342.9 300.8h0M114.2 323.2h0M1298.2 323.2h0M158.9 345.6h0M1253.5 345.6h0M203.6 367.9h0M1208.9 367.9h0M270.6 390.3h0M1164.2 390.3h0M337.6 412.7h0M359.9 412.7h0M1097.2 412.7h0M427.0 435.0h0M449.3 435.0h0M1007.8 435.0h0M1030.1 435.0h0M538.7 457.4h0M561.0 457.4h0M583.3 457.4h0M605.7 457.4h0M851.4 457.4h0M873.8 457.4h0M896.1 457.4h0M918.4 457.4h0M225.9 1016.7h0M248.2 1016.7h0M270.6 1016.7h0M292.9 1016.7h0M315.3 1016.7h0M583.3 1016.7h0M605.7 1016.7h0M628.0 1016.7h0M650.4 1016.7h0M672.7 1016.7h0M136.5 1039.0h0M158.9 1039.0h0M181.2 1039.0h0M717.4 1039.0h0M739.7 1039.0h0M762.1 1039.0h0M91.9 1061.4h0M114.2 1061.4h0M136.5 1061.4h0M784.4 1061.4h0M806.7 1061.4h0M91.9 1083.8h0M114.2 1083.8h0M784.4 1083.8h0M806.7 1083.8h0" stroke-width="6.25"/><path d="M1588.6 10.0h0M1588.6 32.4h0M1566.3 54.7h0M1544.0 99.5h0M1521.6 121.9h0M1499.3 144.2h0M1476.9 166.6h0M1454.6 189.0h0M1432.3 211.3h0M1409.9 233.7h0M2.5 256.1h0M1387.6 256.1h0M47.2 278.4h0M1342.9 278.4h0M91.9 300.8h0M1320.6 300.8h0M136.5 323.2h0M1275.9 323.2h0M181.2 345.6h0M1231.2 345.6h0M225.9 367.9h0M248.2 367.9h0M1186.5 367.9h0M292.9 390.3h0M315.3 390.3h0M1119.5 390.3h0M1141.8 390.3h0M382.3 412.7h0M404.6 412.7h0M1052.5 412.7h0M1074.8 412.7h0M471.6 435.0h0M494.0 435.0h0M516.3 435.0h0M940.8 435.0h0M963.1 435.0h0M985.5 435.0h0M628.0 457.4h0M650.4 457.4h0M672.7 457.4h0M695.0 457.4h0M717.4 457.4h0M739.7 457.4h0M762.1 457.4h0M784.4 457.4h0M806.7 457.4h0M829.1 457.4h0M337.6 1016.7h0M359.9 1016.7h0M382.3 1016.7h0M404.6 1016.7h0M427.0 1016.7h0M449.3 1016.7h0M471.6 1016.7h0M494.0 1016.7h0M516.3 1016.7h0M538.7 1016.7h0M561.0 1016.7h0M203.6 1039.0h0M225.9 1039.0h0M248.2 1039.0h0M650.4 1039.0h0M672.7 1039.0h0M695.0 1039.0h0M158.9 1061.4h0M181.2 1061.4h0M717.4 1061.4h0M739.7 1061.4h0M762.1 1061.4h0M136.5 1083.8h0M158.9 1083.8h0M739.7 1083.8h0M762.1 1083.8h0" stroke-width="6.50"/><path d="M1566.3 32.4h0M1544.0 54.7h0M1544.0 77.1h0M1521.6 99.5h0M1499.3 121.9h0M1476.9 144.2h0M1454.6 166.6h0M1432.3 189.0h0M1409.9 211.3h0M2.5 233.7h0M1387.6 233.7h0M24.8 256.1h0M1365.2 256.1h0M69.5 278.4h0M1320.6 278.4h0M114.2 300.8h0M1298.2 300.8h0M158.9 323.2h0M1253.5 323.2h0M203.6 345.6h0M225.9 345.6h0M1208.9 345.6h0M270.6 367.9h0M1141.8 367.9h0M1164.2 367.9h0M337.6 390.3h0M359.9 390.3h0M1074.8 390.3h0M1097.2 390.3h0M427.0 412.7h0M449.3 412.7h0M985.5 412.7h0M1007.8 412.7h0M1030.1 412.7h0M538.7 435.0h0M561.0 435.0h0M583.3 435.0h0M605.7 435.0h0M851.4 435.0h0M873.8 435.0h0M896.1 435.0h0M918.4 435.0h0M270.6 1039.0h0M292.9 1039.0h0M315.3 1039.0h0M583.3 1039.0h0M605.7 1039.0h0M628.0 1039.0h0M203.6 1061.4h0M225.9 1061.4h0M672.7 1061.4h0M695.0 1061.4h0M181.2 1083.8h0M203.6 1083.8h0M695.0 1083.8h0M717.4 1083.8h0" stroke-width="6.75"/><path d="M1566.3 10.0h0M1544.0 32.4h0M1521.6 77.1h0M1499.3 99.5h0M1476.9 121.9h0M1454.6 144.2h0M1432.3 166.6h0M1409.9 189.0h0M1387.6 211.3h0M24.8 233.7h0M1365.2 233.7h0M47.2 256.1h0M1342.9 256.1h0M91.9 278.4h0M1298.2 278.4h0M136.5 300.8h0M1253.5 300.8h0M1275.9 300.8h0M181.2 323.2h0M1208.9 323.2h0M1231.2 323.2h0M248.2 345.6h0M1164.2 345.6h0M1186.5 345.6h0M292.9 367.9h0M315.3 367.9h0M1119.5 367.9h0M382.3 390.3h0M404.6 390.3h0M1030.1 390.3h0M1052.5 390.3h0M471.6 412.7h0M494.0 412.7h0M516.3 412.7h0M918.4 412.7h0M940.8 412.7h0M963.1 412.7h0M628.0 435.0h0M650.4 435.0h0M672.7 435.0h0M695.0 435.0h0M717.4 435.0h0M739.7 435.0h0M762.1 435.0h0M784.4 435.0h0M806.7 435.0h0M829.1 435.0h0M337.6 1039.0h0M359.9 1039.0h0M382.3 1039.0h0M404.6 1039.0h0M427.0 1039.0h0M449.3 1039.0h0M471.6 1039.0h0M494.0 1039.0h0M516.3 1039.0h0M538.7 1039.0h0M561.0 1039.0h0M248.2 1061.4h0M270.6 1061.4h0M292.9 1061.4h0M605.7 1061.4h0M628.0 1061.4h0M650.4 1061.4h0M225.9 1083.8h0M248.2 1083.8h0M270.6 1083.8h0M628.0 1083.8h0M650.4 1083.8h0M672.7 1083.8h0" stroke-width="7.00"/><path d="M1544.0 10.0h0M1521.6 54.7h0M1499.3 77.1h0M1476.9 99.5h0M1454.6 121.9h0M1387.6 189.0h0M2.5 211.3h0M1365.2 211.3h0M47.2 233.7h0M1342.9 233.7h0M69.5 256.1h0M1298.2 256.1h0M1320.6 256.1h0M114.2 278.4h0M1275.9 278.4h0M158.9 300.8h0M1231.2 300.8h0M203.6 323.2h0M225.9 323.2h0M1186.5 323.2h0M270.6 345.6h0M292.9 345.6h0M1141.8 345.6h0M337.6 367.9h0M359.9 367.9h0M1074.8 367.9h0M1097.2 367.9h0M427.0 390.3h0M449.3 390.3h0M985.5 390.3h0M1007.8 390.3h0M538.7 412.7h0M561.0 412.7h0M583.3 412.7h0M605.7 412.7h0M829.1 412.7h0M851.4 412.7h0M873.8 412.7h0M896.1 412.7h0M315.3 1061.4h0M337.6 1061.4h0M359.9 1061.4h0M561.0 1061.4h0M583.3 1061.4h0M292.9 1083.8h0M315.3 1083.8h0M583.3 1083.8h0M605.7 1083.8h0" stroke-width="7.25"/><path d="M1521.6 10.0h0M1521.6 32.4h0M1499.3 54.7h0M1476.9 77.1h0M1432.3 144.2h0M1409.9 166.6h0M2.5 189.0h0M1365.2 189.0h0M24.8 211.3h0M1342.9 211.3h0M69.5 233.7h0M1320.6 233.7h0M91.9 256.1h0M114.2 256.1h0M1275.9 256.1h0M136.5 278.4h0M1253.5 278.4h0M181.2 300.8h0M203.6 300.8h0M1208.9 300.8h0M248.2 323.2h0M1164.2 323.2h0M315.3 345.6h0M1097.2 345.6h0M1119.5 345.6h0M382.3 367.9h0M404.6 367.9h0M1030.1 367.9h0M1052.5 367.9h0M471.6 390.3h0M494.0 390.3h0M516.3 390.3h0M918.4 390.3h0M940.8 390.3h0M963.1 390.3h0M628.0 412.7h0M650.4 412.7h0M672.7 412.7h0M695.0 412.7h0M717.4 412.7h0M739.7 412.7h0M762.1 412.7h0M784.4 412.7h0M806.7 412.7h0M382.3 1061.4h0M404.6 1061.4h0M427.0 1061.4h0M449.3 1061.4h0M471.6 1061.4h0M494.0 1061.4h0M516.3 1061.4h0M538.7 1061.4h0M337.6 1083.8h0M359.9 1083.8h0M538.7 1083.8h0M561.0 1083.8h0" stroke-width="7.50"/><path d="M1499.3 32.4h0M1476.9 54.7h0M1454.6 77.1h0M1454.6 99.5h0M1432.3 121.9h0M1409.9 144.2h0M1387.6 166.6h0M24.8 189.0h0M1342.9 189.0h0M47.2 211.3h0M1320.6 211.3h0M91.9 233.7h0M1298.2 233.7h0M136.5 256.1h0M1253.5 256.1h0M158.9 278.4h0M181.2 278.4h0M1208.9 278.4h0M1231.2 278.4h0M225.9 300.8h0M1164.2 300.8h0M1186.5 300.8h0M270.6 323.2h0M292.9 323.2h0M1119.5 323.2h0M1141.8 323.2h0M337.6 345.6h0M359.9 345.6h0M1052.5 345.6h0M1074.8 345.6h0M427.0 367.9h0M449.3 367.9h0M963.1 367.9h0M985.5 367.9h0M1007.8 367.9h0M538.7 390.3h0M561.0 390.3h0M583.3 390.3h0M605.7 390.3h0M628.0 390.3h0M806.7 390.3h0M829.1 390.3h0M851.4 390.3h0M873.8 390.3h0M896.1 390.3h0M382.3 1083.8h0M404.6 1083.8h0M427.0 1083.8h0M471.6 1083.8h0M494.0 1083.8h0M516.3 1083.8h0" stroke-width="7.75"/><path d="M1499.3 10.0h0M1476.9 32.4h0M1454.6 54.7h0M1432.3 99.5h0M1409.9 121.9h0M1387.6 144.2h0M2.5 166.6h0M1365.2 166.6h0M47.2 189.0h0M1320.6 189.0h0M69.5 211.3h0M1298.2 211.3h0M114.2 233.7h0M1275.9 233.7h0M158.9 256.1h0M1231.2 256.1h0M203.6 278.4h0M1186.5 278.4h0M248.2 300.8h0M270.6 300.8h0M1141.8 300.8h0M315.3 323.2h0M337.6 323.2h0M1074.8 323.2h0M1097.2 323.2h0M382.3 345.6h0M404.6 345.6h0M1007.8 345.6h0M1030.1 345.6h0M471.6 367.9h0M494.0 367.9h0M516.3 367.9h0M538.7 367.9h0M896.1 367.9h0M918.4 367.9h0M940.8 367.9h0M650.4 390.3h0M672.7 390.3h0M695.0 390.3h0M717.4 390.3h0M739.7 390.3h0M762.1 390.3h0M784.4 390.3h0M449.3 1083.8h0" stroke-width="8.00"/><path d="M1476.9 10.0h0M1454.6 32.4h0M1432.3 77.1h0M1409.9 99.5h0M1387.6 121.9h0M2.5 144.2h0M1365.2 144.2h0M24.8 166.6h0M1342.9 166.6h0M69.5 189.0h0M1298.2 189.0h0M91.9 211.3h0M1275.9 211.3h0M136.5 233.7h0M1231.2 233.7h0M1253.5 233.7h0M181.2 256.1h0M1208.9 256.1h0M225.9 278.4h0M248.2 278.4h0M1164.2 278.4h0M292.9 300.8h0M1097.2 300.8h0M1119.5 300.8h0M359.9 323.2h0M382.3 323.2h0M1030.1 323.2h0M1052.5 323.2h0M427.0 345.6h0M449.3 345.6h0M471.6 345.6h0M940.8 345.6h0M963.1 345.6h0M985.5 345.6h0M561.0 367.9h0M583.3 367.9h0M605.7 367.9h0M628.0 367.9h0M650.4 367.9h0M672.7 367.9h0M695.0 367.9h0M717.4 367.9h0M739.7 367.9h0M762.1 367.9h0M784.4 367.9h0M806.7 367.9h0M829.1 367.9h0M851.4 367.9h0M873.8 367.9h0" stroke-width="8.25"/><path d="M1454.6 10.0h0M1432.3 32.4h0M1432.3 54.7h0M1409.9 77.1h0M1387.6 99.5h0M1365.2 121.9h0M24.8 144.2h0M1342.9 144.2h0M47.2 166.6h0M1320.6 166.6h0M91.9 189.0h0M1275.9 189.0h0M114.2 211.3h0M136.5 211.3h0M1253.5 211.3h0M158.9 233.7h0M1208.9 233.7h0M203.6 256.1h0M225.9 256.1h0M1164.2 256.1h0M1186.5 256.1h0M270.6 278.4h0M1119.5 278.4h0M1141.8 278.4h0M315.3 300.8h0M337.6 300.8h0M1052.5 300.8h0M1074.8 300.8h0M404.6 323.2h0M427.0 323.2h0M985.5 323.2h0M1007.8 323.2h0M494.0 345.6h0M516.3 345.6h0M538.7 345.6h0M873.8 345.6h0M896.1 345.6h0M918.4 345.6h0" stroke-width="8.50"/><path d="M1432.3 10.0h0M1409.9 54.7h0M1387.6 77.1h0M1365.2 99.5h0M2.5 121.9h0M1342.9 121.9h0M47.2 144.2h0M1320.6 144.2h0M69.5 166.6h0M1275.9 166.6h0M1298.2 166.6h0M114.2 189.0h0M1253.5 189.0h0M158.9 211.3h0M1231.2 211.3h0M181.2 233.7h0M203.6 233.7h0M1186.5 233.7h0M248.2 256.1h0M1141.8 256.1h0M292.9 278.4h0M315.3 278.4h0M1074.8 278.4h0M1097.2 278.4h0M359.9 300.8h0M382.3 300.8h0M1007.8 300.8h0M1030.1 300.8h0M449.3 323.2h0M471.6 323.2h0M494.0 323.2h0M918.4 323.2h0M940.8 323.2h0M963.1 323.2h0M561.0 345.6h0M583.3 345.6h0M605.7 345.6h0M628.0 345.6h0M650.4 345.6h0M672.7 345.6h0M695.0 345.6h0M717.4 345.6h0M739.7 345.6h0M762.1 345.6h0M784.4 345.6h0M806.7 345.6h0M829.1 345.6h0M851.4 345.6h0" stroke-width="8.75"/><path d="M1409.9 10.0h0M1409.9 32.4h0M1387.6 54.7h0M1365.2 77.1h0M2.5 99.5h0M1342.9 99.5h0M24.8 121.9h0M1320.6 121.9h0M69.5 144.2h0M1298.2 144.2h0M91.9 166.6h0M1253.5 166.6h0M136.5 189.0h0M1231.2 189.0h0M181.2 211.3h0M1186.5 211.3h0M1208.9 211.3h0M225.9 233.7h0M1141.8 233.7h0M1164.2 233.7h0M270.6 256.1h0M292.9 256.1h0M1097.2 256.1h0M1119.5 256.1h0M337.6 278.4h0M359.9 278.4h0M1030.1 278.4h0M1052.5 278.4h0M404.6 300.8h0M427.0 300.8h0M449.3 300.8h0M963.1 300.8h0M985.5 300.8h0M516.3 323.2h0M538.7 323.2h0M561.0 323.2h0M583.3 323.2h0M829.1 323.2h0M851.4 323.2h0M873.8 323.2h0M896.1 323.2h0" stroke-width="9.00"/><path d="M1387.6 32.4h0M1365.2 54.7h0M2.5 77.1h0M1342.9 77.1h0M24.8 99.5h0M1320.6 99.5h0M47.2 121.9h0M1298.2 121.9h0M91.9 144.2h0M1275.9 144.2h0M114.2 166.6h0M136.5 166.6h0M1231.2 166.6h0M158.9 189.0h0M1208.9 189.0h0M203.6 211.3h0M1164.2 211.3h0M248.2 233.7h0M270.6 233.7h0M1119.5 233.7h0M315.3 256.1h0M337.6 256.1h0M1052.5 256.1h0M1074.8 256.1h0M382.3 278.4h0M404.6 278.4h0M985.5 278.4h0M1007.8 278.4h0M471.6 300.8h0M494.0 300.8h0M516.3 300.8h0M896.1 300.8h0M918.4 300.8h0M940.8 300.8h0M605.7 323.2h0M628.0 323.2h0M650.4 323.2h0M672.7 323.2h0M695.0 323.2h0M717.4 323.2h0M739.7 323.2h0M762.1 323.2h0M784.4 323.2h0M806.7 323.2h0" stroke-width="9.25"/><path d="M1387.6 10.0h0M1365.2 32.4h0M2.5 54.7h0M1342.9 54.7h0M24.8 77.1h0M1320.6 77.1h0M47.2 99.5h0M1298.2 99.5h0M69.5 121.9h0M91.9 121.9h0M1275.9 121.9h0M114.2 144.2h0M1231.2 144.2h0M1253.5 144.2h0M158.9 166.6h0M1208.9 166.6h0M181.2 189.0h0M203.6 189.0h0M1164.2 189.0h0M1186.5 189.0h0M225.9 211.3h0M248.2 211.3h0M1119.5 211.3h0M1141.8 211.3h0M292.9 233.7h0M1074.8 233.7h0M1097.2 233.7h0M359.9 256.1h0M382.3 256.1h0M1007.8 256.1h0M1030.1 256.1h0M427.0 278.4h0M449.3 278.4h0M471.6 278.4h0M940.8 278.4h0M963.1 278.4h0M538.7 300.8h0M561.0 300.8h0M583.3 300.8h0M605.7 300.8h0M628.0 300.8h0M762.1 300.8h0M784.4 300.8h0M806.7 300.8h0M829.1 300.8h0M851.4 300.8h0M873.8 300.8h0" stroke-width="9.50"/><path d="M1365.2 10.0h0M2.5 32.4h0M1342.9 32.4h0M24.8 54.7h0M1320.6 54.7h0M47.2 77.1h0M1298.2 77.1h0M69.5 99.5h0M1275.9 99.5h0M114.2 121.9h0M1231.2 121.9h0M1253.5 121.9h0M136.5 144.2h0M1208.9 144.2h0M181.2 166.6h0M1186.5 166.6h0M225.9 189.0h0M1141.8 189.0h0M270.6 211.3h0M292.9 211.3h0M1097.2 211.3h0M315.3 233.7h0M337.6 233.7h0M1030.1 233.7h0M1052.5 233.7h0M404.6 256.1h0M427.0 256.1h0M963.1 256.1h0M985.5 256.1h0M494.0 278.4h0M516.3 278.4h0M538.7 278.4h0M851.4 278.4h0M873.8 278.4h0M896.1 278.4h0M918.4 278.4h0M650.4 300.8h0M672.7 300.8h0M695.0 300.8h0M717.4 300.8h0M739.7 300.8h0" stroke-width="9.75"/><path d="M2.5 10.0h0M1342.9 10.0h0M24.8 32.4h0M1320.6 32.4h0M47.2 54.7h0M1298.2 54.7h0M69.5 77.1h0M1275.9 77.1h0M91.9 99.5h0M1253.5 99.5h0M136.5 121.9h0M1208.9 121.9h0M158.9 144.2h0M181.2 144.2h0M1186.5 144.2h0M203.6 166.6h0M225.9 166.6h0M1141.8 166.6h0M1164.2 166.6h0M248.2 189.0h0M270.6 189.0h0M1097.2 189.0h0M1119.5 189.0h0M315.3 211.3h0M1052.5 211.3h0M1074.8 211.3h0M359.9 233.7h0M382.3 233.7h0M404.6 233.7h0M985.5 233.7h0M1007.8 233.7h0M449.3 256.1h0M471.6 256.1h0M494.0 256.1h0M896.1 256.1h0M918.4 256.1h0M940.8 256.1h0M561.0 278.4h0M583.3 278.4h0M605.7 278.4h0M628.0 278.4h0M650.4 278.4h0M672.7 278.4h0M695.0 278.4h0M717.4 278.4h0M739.7 278.4h0M762.1 278.4h0M784.4 278.4h0M806.7 278.4h0M829.1 278.4h0" stroke-width="10.00"/><path d="M24.8 10.0h0M1320.6 10.0h0M47.2 32.4h0M1298.2 32.4h0M69.5 54.7h0M1275.9 54.7h0M91.9 77.1h0M1253.5 77.1h0M114.2 99.5h0M136.5 99.5h0M1208.9 99.5h0M1231.2 99.5h0M158.9 121.9h0M1186.5 121.9h0M203.6 144.2h0M1141.8 144.2h0M1164.2 144.2h0M248.2 166.6h0M1119.5 166.6h0M292.9 189.0h0M315.3 189.0h0M1052.5 189.0h0M1074.8 189.0h0M337.6 211.3h0M359.9 211.3h0M1007.8 211.3h0M1030.1 211.3h0M427.0 233.7h0M449.3 233.7h0M918.4 233.7h0M940.8 233.7h0M963.1 233.7h0M516.3 256.1h0M538.7 256.1h0M561.0 256.1h0M583.3 256.1h0M605.7 256.1h0M784.4 256.1h0M806.7 256.1h0M829.1 256.1h0M851.4 256.1h0M873.8 256.1h0" stroke-width="10.25"/><path d="M47.2 10.0h0M1275.9 10.0h0M1298.2 10.0h0M69.5 32.4h0M1275.9 32.4h0M91.9 54.7h0M1231.2 54.7h0M1253.5 54.7h0M114.2 77.1h0M1208.9 77.1h0M1231.2 77.1h0M158.9 99.5h0M1186.5 99.5h0M181.2 121.9h0M203.6 121.9h0M1164.2 121.9h0M225.9 144.2h0M248.2 144.2h0M1119.5 144.2h0M270.6 166.6h0M292.9 166.6h0M1074.8 166.6h0M1097.2 166.6h0M337.6 189.0h0M359.9 189.0h0M1030.1 189.0h0M382.3 211.3h0M404.6 211.3h0M427.0 211.3h0M940.8 211.3h0M963.1 211.3h0M985.5 211.3h0M471.6 233.7h0M494.0 233.7h0M516.3 233.7h0M538.7 233.7h0M851.4 233.7h0M873.8 233.7h0M896.1 233.7h0M628.0 256.1h0M650.4 256.1h0M672.7 256.1h0M695.0 256.1h0M717.4 256.1h0M739.7 256.1h0M762.1 256.1h0" stroke-width="10.50"/><path d="M69.5 10.0h0M1253.5 10.0h0M91.9 32.4h0M1231.2 32.4h0M1253.5 32.4h0M114.2 54.7h0M1208.9 54.7h0M136.5 77.1h0M158.9 77.1h0M1186.5 77.1h0M181.2 99.5h0M1164.2 99.5h0M225.9 121.9h0M1119.5 121.9h0M1141.8 121.9h0M270.6 144.2h0M1074.8 144.2h0M1097.2 144.2h0M315.3 166.6h0M337.6 166.6h0M1030.1 166.6h0M1052.5 166.6h0M382.3 189.0h0M404.6 189.0h0M963.1 189.0h0M985.5 189.0h0M1007.8 189.0h0M449.3 211.3h0M471.6 211.3h0M494.0 211.3h0M873.8 211.3h0M896.1 211.3h0M918.4 211.3h0M561.0 233.7h0M583.3 233.7h0M605.7 233.7h0M628.0 233.7h0M650.4 233.7h0M672.7 233.7h0M695.0 233.7h0M717.4 233.7h0M739.7 233.7h0M762.1 233.7h0M784.4 233.7h0M806.7 233.7h0M829.1 233.7h0" stroke-width="10.75"/><path d="M91.9 10.0h0M1231.2 10.0h0M114.2 32.4h0M1208.9 32.4h0M136.5 54.7h0M158.9 54.7h0M1186.5 54.7h0M181.2 77.1h0M1164.2 77.1h0M203.6 99.5h0M225.9 99.5h0M1119.5 99.5h0M1141.8 99.5h0M248.2 121.9h0M270.6 121.9h0M1074.8 121.9h0M1097.2 121.9h0M292.9 144.2h0M315.3 144.2h0M1030.1 144.2h0M1052.5 144.2h0M359.9 166.6h0M382.3 166.6h0M985.5 166.6h0M1007.8 166.6h0M427.0 189.0h0M449.3 189.0h0M918.4 189.0h0M940.8 189.0h0M516.3 211.3h0M538.7 211.3h0M561.0 211.3h0M583.3 211.3h0M605.7 211.3h0M762.1 211.3h0M784.4 211.3h0M806.7 211.3h0M829.1 211.3h0M851.4 211.3h0" stroke-width="11.00"/><path d="M114.2 10.0h0M1208.9 10.0h0M136.5 32.4h0M158.9 32.4h0M1186.5 32.4h0M181.2 54.7h0M1164.2 54.7h0M203.6 77.1h0M225.9 77.1h0M1119.5 77.1h0M1141.8 77.1h0M248.2 99.5h0M1097.2 99.5h0M292.9 121.9h0M315.3 121.9h0M1052.5 121.9h0M337.6 144.2h0M359.9 144.2h0M985.5 144.2h0M1007.8 144.2h0M404.6 166.6h0M427.0 166.6h0M918.4 166.6h0M940.8 166.6h0M963.1 166.6h0M471.6 189.0h0M494.0 189.0h0M516.3 189.0h0M538.7 189.0h0M829.1 189.0h0M851.4 189.0h0M873.8 189.0h0M896.1 189.0h0M628.0 211.3h0M650.4 211.3h0M672.7 211.3h0M695.0 211.3h0M717.4 211.3h0M739.7 211.3h0" stroke-width="11.25"/><path d="M136.5 10.0h0M158.9 10.0h0M1186.5 10.0h0M181.2 32.4h0M1164.2 32.4h0M203.6 54.7h0M1119.5 54.7h0M1141.8 54.7h0M248.2 77.1h0M1097.2 77.1h0M270.6 99.5h0M292.9 99.5h0M1052.5 99.5h0M1074.8 99.5h0M337.6 121.9h0M359.9 121.9h0M1007.8 121.9h0M1030.1 121.9h0M382.3 144.2h0M404.6 144.2h0M427.0 144.2h0M940.8 144.2h0M963.1 144.2h0M449.3 166.6h0M471.6 166.6h0M494.0 166.6h0M516.3 166.6h0M851.4 166.6h0M873.8 166.6h0M896.1 166.6h0M561.0 189.0h0M583.3 189.0h0M605.7 189.0h0M628.0 189.0h0M650.4 189.0h0M672.7 189.0h0M695.0 189.0h0M717.4 189.0h0M739.7 189.0h0M762.1 189.0h0M784.4 189.0h0M806.7 189.0h0" stroke-width="11.50"/><path d="M181.2 10.0h0M1141.8 10.0h0M1164.2 10.0h0M203.6 32.4h0M1119.5 32.4h0M1141.8 32.4h0M225.9 54.7h0M248.2 54.7h0M1097.2 54.7h0M270.6 77.1h0M292.9 77.1h0M1052.5 77.1h0M1074.8 77.1h0M315.3 99.5h0M337.6 99.5h0M1007.8 99.5h0M1030.1 99.5h0M382.3 121.9h0M404.6 121.9h0M940.8 121.9h0M963.1 121.9h0M985.5 121.9h0M449.3 144.2h0M471.6 144.2h0M494.0 144.2h0M873.8 144.2h0M896.1 144.2h0M918.4 144.2h0M538.7 166.6h0M561.0 166.6h0M583.3 166.6h0M605.7 166.6h0M628.0 166.6h0M650.4 166.6h0M672.7 166.6h0M695.0 166.6h0M717.4 166.6h0M739.7 166.6h0M762.1 166.6h0M784.4 166.6h0M806.7 166.6h0M829.1 166.6h0" stroke-width="11.75"/><path d="M203.6 10.0h0M1119.5 10.0h0M225.9 32.4h0M248.2 32.4h0M1097.2 32.4h0M270.6 54.7h0M292.9 54.7h0M1052.5 54.7h0M1074.8 54.7h0M315.3 77.1h0M337.6 77.1h0M1007.8 77.1h0M1030.1 77.1h0M359.9 99.5h0M382.3 99.5h0M963.1 99.5h0M985.5 99.5h0M427.0 121.9h0M449.3 121.9h0M471.6 121.9h0M873.8 121.9h0M896.1 121.9h0M918.4 121.9h0M516.3 144.2h0M538.7 144.2h0M561.0 144.2h0M583.3 144.2h0M605.7 144.2h0M739.7 144.2h0M762.1 144.2h0M784.4 144.2h0M806.7 144.2h0M829.1 144.2h0M851.4 144.2h0" stroke-width="12.00"/><path d="M225.9 10.0h0M248.2 10.0h0M1074.8 10.0h0M1097.2 10.0h0M270.6 32.4h0M292.9 32.4h0M1052.5 32.4h0M1074.8 32.4h0M315.3 54.7h0M337.6 54.7h0M1007.8 54.7h0M1030.1 54.7h0M359.9 77.1h0M382.3 77.1h0M963.1 77.1h0M985.5 77.1h0M404.6 99.5h0M427.0 99.5h0M449.3 99.5h0M896.1 99.5h0M918.4 99.5h0M940.8 99.5h0M494.0 121.9h0M516.3 121.9h0M538.7 121.9h0M561.0 121.9h0M784.4 121.9h0M806.7 121.9h0M829.1 121.9h0M851.4 121.9h0M628.0 144.2h0M650.4 144.2h0M672.7 144.2h0M695.0 144.2h0M717.4 144.2h0" stroke-width="12.25"/><path d="M270.6 10.0h0M292.9 10.0h0M1052.5 10.0h0M315.3 32.4h0M337.6 32.4h0M1007.8 32.4h0M1030.1 32.4h0M359.9 54.7h0M382.3 54.7h0M963.1 54.7h0M985.5 54.7h0M404.6 77.1h0M427.0 77.1h0M449.3 77.1h0M896.1 77.1h0M918.4 77.1h0M940.8 77.1h0M471.6 99.5h0M494.0 99.5h0M516.3 99.5h0M538.7 99.5h0M806.7 99.5h0M829.1 99.5h0M851.4 99.5h0M873.8 99.5h0M583.3 121.9h0M605.7 121.9h0M628.0 121.9h0M650.4 121.9h0M672.7 121.9h0M695.0 121.9h0M717.4 121.9h0M739.7 121.9h0M762.1 121.9h0" stroke-width="12.50"/><path d="M315.3 10.0h0M337.6 10.0h0M1007.8 10.0h0M1030.1 10.0h0M359.9 32.4h0M382.3 32.4h0M963.1 32.4h0M985.5 32.4h0M404.6 54.7h0M427.0 54.7h0M449.3 54.7h0M896.1 54.7h0M918.4 54.7h0M940.8 54.7h0M471.6 77.1h0M494.0 77.1h0M516.3 77.1h0M538.7 77.1h0M806.7 77.1h0M829.1 77.1h0M851.4 77.1h0M873.8 77.1h0M561.0 99.5h0M583.3 99.5h0M605.7 99.5h0M628.0 99.5h0M650.4 99.5h0M672.7 99.5h0M695.0 99.5h0M717.4 99.5h0M739.7 99.5h0M762.1 99.5h0M784.4 99.5h0" stroke-width="12.75"/><path d="M359.9 10.0h0M382.3 10.0h0M940.8 10.0h0M963.1 10.0h0M985.5 10.0h0M404.6 32.4h0M427.0 32.4h0M896.1 32.4h0M918.4 32.4h0M940.8 32.4h0M471.6 54.7h0M494.0 54.7h0M516.3 54.7h0M806.7 54.7h0M829.1 54.7h0M851.4 54.7h0M873.8 54.7h0M561.0 77.1h0M583.3 77.1h0M605.7 77.1h0M628.0 77.1h0M650.4 77.1h0M672.7 77.1h0M695.0 77.1h0M717.4 77.1h0M739.7 77.1h0M762.1 77.1h0M784.4 77.1h0" stroke-width="13.00"/><path d="M404.6 10.0h0M427.0 10.0h0M449.3 10.0h0M896.1 10.0h0M918.4 10.0h0M449.3 32.4h0M471.6 32.4h0M494.0 32.4h0M516.3 32.4h0M806.7 32.4h0M829.1 32.4h0M851.4 32.4h0M873.8 32.4h0M538.7 54.7h0M561.0 54.7h0M583.3 54.7h0M605.7 54.7h0M628.0 54.7h0M650.4 54.7h0M672.7 54.7h0M695.0 54.7h0M717.4 54.7h0M739.7 54.7h0M762.1 54.7h0M784.4 54.7h0" stroke-width="13.25"/><path d="M471.6 10.0h0M494.0 10.0h0M516.3 10.0h0M806.7 10.0h0M829.1 10.0h0M851.4 10.0h0M873.8 10.0h0M538.7 32.4h0M561.0 32.4h0M583.3 32.4h0M605.7 32.4h0M628.0 32.4h0M650.4 32.4h0M672.7 32.4h0M695.0 32.4h0M717.4 32.4h0M739.7 32.4h0M762.1 32.4h0M784.4 32.4h0" stroke-width="13.50"/><path d="M538.7 10.0h0M561.0 10.0h0M583.3 10.0h0M605.7 10.0h0M628.0 10.0h0M650.4 10.0h0M672.7 10.0h0M695.0 10.0h0M717.4 10.0h0M739.7 10.0h0M762.1 10.0h0M784.4 10.0h0" stroke-width="13.75"/></g></defs><g filter="url(#db)"><use href="#dd" stroke="#fffaf6"/><g clip-path="url(#cg)"><use href="#dd" stroke="#d8f7de"/></g><g clip-path="url(#cp)"><use href="#dd" stroke="#ffdedb"/></g><g clip-path="url(#cu)"><use href="#dd" stroke="#e7f2f6"/></g><g clip-path="url(#cl)"><use href="#dd" stroke="#e2eaef"/></g><g clip-path="url(#cm)"><use href="#dd" stroke="#e4fbfa"/></g><g clip-path="url(#cy)"><use href="#dd" stroke="#fffdda"/></g></g></svg>
<svg class="fg" width="1606" height="1071" viewBox="0 0 1606 1071"><defs><filter id="soft" x="-10%" y="-10%" width="120%" height="120%" color-interpolation-filters="sRGB"><feGaussianBlur stdDeviation="1.2"/></filter><clipPath id="c0"><circle cx="0" cy="0" r="42"/></clipPath><clipPath id="c1"><circle cx="0" cy="0" r="42"/></clipPath><clipPath id="c2"><circle cx="0" cy="0" r="42"/></clipPath><clipPath id="c3"><circle cx="0" cy="0" r="42"/></clipPath><clipPath id="c4"><circle cx="0" cy="0" r="42"/></clipPath><clipPath id="c5"><circle cx="0" cy="0" r="42"/></clipPath><clipPath id="c6"><circle cx="0" cy="0" r="42"/></clipPath><clipPath id="c7"><circle cx="0" cy="0" r="42"/></clipPath><clipPath id="c8"><circle cx="0" cy="0" r="42"/></clipPath></defs><text x="406.82" y="140.20" font-size="66.5" font-weight="bold" fill="#0d1e3b" stroke="#0d1e3b" stroke-width="4.20" stroke-linejoin="miter" textLength="19.02" lengthAdjust="spacingAndGlyphs" style="font-family:'Liberation Sans',sans-serif" >F</text><text x="433.82" y="140.20" font-size="66.5" font-weight="bold" fill="#0d1e3b" stroke="#0d1e3b" stroke-width="4.20" stroke-linejoin="miter" textLength="35.71" lengthAdjust="spacingAndGlyphs" style="font-family:'Liberation Sans',sans-serif" >O</text><text x="475.39" y="140.20" font-size="66.5" font-weight="bold" fill="#0d1e3b" stroke="#0d1e3b" stroke-width="4.20" stroke-linejoin="miter" textLength="29.24" lengthAdjust="spacingAndGlyphs" style="font-family:'Liberation Sans',sans-serif" >R</text><text x="509.36" y="140.20" font-size="66.5" font-weight="bold" fill="#0d1e3b" stroke="#0d1e3b" stroke-width="4.20" stroke-linejoin="miter" textLength="24.07" lengthAdjust="spacingAndGlyphs" style="font-family:'Liberation Sans',sans-serif" >T</text><text x="537.65" y="140.20" font-size="66.5" font-weight="bold" fill="#0d1e3b" stroke="#0d1e3b" stroke-width="4.20" stroke-linejoin="miter" textLength="28.56" lengthAdjust="spacingAndGlyphs" style="font-family:'Liberation Sans',sans-serif" >R</text><text x="573.32" y="140.20" font-size="66.5" font-weight="bold" fill="#0d1e3b" stroke="#0d1e3b" stroke-width="4.20" stroke-linejoin="miter" textLength="35.71" lengthAdjust="spacingAndGlyphs" style="font-family:'Liberation Sans',sans-serif" >O</text><text x="616.93" y="140.20" font-size="66.5" font-weight="bold" fill="#0d1e3b" stroke="#0d1e3b" stroke-width="4.20" stroke-linejoin="miter" textLength="18.67" lengthAdjust="spacingAndGlyphs" style="font-family:'Liberation Sans',sans-serif" >E</text><text x="644.34" y="140.20" font-size="66.5" font-weight="bold" fill="#0d1e3b" stroke="#0d1e3b" stroke-width="4.20" stroke-linejoin="miter" textLength="33.04" lengthAdjust="spacingAndGlyphs" style="font-family:'Liberation Sans',sans-serif" >N</text><text x="683.65" y="140.20" font-size="66.5" font-weight="bold" fill="#0d1e3b" stroke="#0d1e3b" stroke-width="4.20" stroke-linejoin="miter" textLength="31.79" lengthAdjust="spacingAndGlyphs" style="font-family:'Liberation Sans',sans-serif" >D</text><text x="723.17" y="140.20" font-size="66.5" font-weight="bold" fill="#0d1e3b" stroke="#0d1e3b" stroke-width="4.20" stroke-linejoin="miter" textLength="20.21" lengthAdjust="spacingAndGlyphs" style="font-family:'Liberation Sans',sans-serif" >E</text><text x="769.24" y="140.20" font-size="66.5" font-weight="bold" fill="#0d1e3b" stroke="#0d1e3b" stroke-width="4.20" stroke-linejoin="miter" textLength="19.75" lengthAdjust="spacingAndGlyphs" style="font-family:'Liberation Sans',sans-serif" >F</text><text x="796.32" y="140.20" font-size="66.5" font-weight="bold" fill="#0d1e3b" stroke="#0d1e3b" stroke-width="4.20" stroke-linejoin="miter" textLength="35.71" lengthAdjust="spacingAndGlyphs" style="font-family:'Liberation Sans',sans-serif" >O</text><text x="838.57" y="140.20" font-size="66.5" font-weight="bold" fill="#0d1e3b" stroke="#0d1e3b" stroke-width="4.20" stroke-linejoin="miter" textLength="28.44" lengthAdjust="spacingAndGlyphs" style="font-family:'Liberation Sans',sans-serif" >R</text><text x="894.39" y="140.20" font-size="66.5" font-weight="bold" fill="#0d1e3b" stroke="#0d1e3b" stroke-width="4.20" stroke-linejoin="miter" textLength="28.05" lengthAdjust="spacingAndGlyphs" style="font-family:'Liberation Sans',sans-serif" >P</text><text x="924.74" y="140.20" font-size="66.5" font-weight="bold" fill="#0d1e3b" stroke="#0d1e3b" stroke-width="4.20" stroke-linejoin="miter" textLength="33.69" lengthAdjust="spacingAndGlyphs" style="font-family:'Liberation Sans',sans-serif" >A</text><text x="963.23" y="140.20" font-size="66.5" font-weight="bold" fill="#0d1e3b" stroke="#0d1e3b" stroke-width="4.20" stroke-linejoin="miter" textLength="27.76" lengthAdjust="spacingAndGlyphs" style="font-family:'Liberation Sans',sans-serif" >R</text><text x="995.88" y="140.20" font-size="66.5" font-weight="bold" fill="#0d1e3b" stroke="#0d1e3b" stroke-width="4.20" stroke-linejoin="miter" textLength="22.82" lengthAdjust="spacingAndGlyphs" style="font-family:'Liberation Sans',sans-serif" >T</text><text x="1024.43" y="140.20" font-size="66.5" font-weight="bold" fill="#0d1e3b" stroke="#0d1e3b" stroke-width="4.20" stroke-linejoin="miter" textLength="12.34" lengthAdjust="spacingAndGlyphs" style="font-family:'Liberation Sans',sans-serif" >I</text><text x="1044.04" y="140.20" font-size="66.5" font-weight="bold" fill="#0d1e3b" stroke="#0d1e3b" stroke-width="4.20" stroke-linejoin="miter" textLength="18.81" lengthAdjust="spacingAndGlyphs" style="font-family:'Liberation Sans',sans-serif" >L</text><text x="1069.68" y="140.20" font-size="66.5" font-weight="bold" fill="#0d1e3b" stroke="#0d1e3b" stroke-width="4.20" stroke-linejoin="miter" textLength="20.09" lengthAdjust="spacingAndGlyphs" style="font-family:'Liberation Sans',sans-serif" >E</text><text x="1097.37" y="140.20" font-size="66.5" font-weight="bold" fill="#0d1e3b" stroke="#0d1e3b" stroke-width="4.20" stroke-linejoin="miter" textLength="31.68" lengthAdjust="spacingAndGlyphs" style="font-family:'Liberation Sans',sans-serif" >D</text><text x="1132.08" y="140.20" font-size="66.5" font-weight="bold" fill="#0d1e3b" stroke="#0d1e3b" stroke-width="4.20" stroke-linejoin="miter" textLength="32.40" lengthAdjust="spacingAndGlyphs" style="font-family:'Liberation Sans',sans-serif" >A</text><text x="1171.13" y="140.20" font-size="66.5" font-weight="bold" fill="#0d1e3b" stroke="#0d1e3b" stroke-width="4.20" stroke-linejoin="miter" textLength="27.76" lengthAdjust="spacingAndGlyphs" style="font-family:'Liberation Sans',sans-serif" >R</text><text x="1207.84" y="140.20" font-size="66.5" font-weight="bold" fill="#0d1e3b" stroke="#0d1e3b" stroke-width="4.20" stroke-linejoin="miter" textLength="19.50" lengthAdjust="spacingAndGlyphs" style="font-family:'Liberation Sans',sans-serif" >E</text><text x="1235.37" y="140.20" font-size="66.5" font-weight="bold" fill="#0d1e3b" stroke="#0d1e3b" stroke-width="4.20" stroke-linejoin="miter" textLength="33.78" lengthAdjust="spacingAndGlyphs" style="font-family:'Liberation Sans',sans-serif" >N</text><circle cx="445.2" cy="83.5" r="4.4" fill="#0d1e3b"/><circle cx="458.0" cy="83.5" r="4.4" fill="#0d1e3b"/><circle cx="807.8" cy="83.5" r="4.4" fill="#0d1e3b"/><circle cx="820.5" cy="83.5" r="4.4" fill="#0d1e3b"/><text x="404.41" y="205.40" font-size="55.5" fill="#0d1e3b" stroke="#0d1e3b" stroke-width="2.60" stroke-linejoin="miter" textLength="21.07" lengthAdjust="spacingAndGlyphs" style="font-family:'Liberation Sans',sans-serif" >N</text><text x="431.46" y="205.40" font-size="55.5" fill="#0d1e3b" stroke="#0d1e3b" stroke-width="2.60" stroke-linejoin="miter" textLength="20.28" lengthAdjust="spacingAndGlyphs" style="font-family:'Liberation Sans',sans-serif" >O</text><text x="456.49" y="205.40" font-size="55.5" fill="#0d1e3b" stroke="#0d1e3b" stroke-width="2.60" stroke-linejoin="miter" textLength="16.52" lengthAdjust="spacingAndGlyphs" style="font-family:'Liberation Sans',sans-serif" >V</text><text x="478.29" y="205.40" font-size="55.5" fill="#0d1e3b" stroke="#0d1e3b" stroke-width="2.60" stroke-linejoin="miter" textLength="13.91" lengthAdjust="spacingAndGlyphs" style="font-family:'Liberation Sans',sans-serif" >E</text><text x="495.30" y="205.40" font-size="55.5" fill="#0d1e3b" stroke="#0d1e3b" stroke-width="2.60" stroke-linejoin="miter" textLength="31.50" lengthAdjust="spacingAndGlyphs" style="font-family:'Liberation Sans',sans-serif" >M</text><text x="530.86" y="205.40" font-size="55.5" fill="#0d1e3b" stroke="#0d1e3b" stroke-width="2.60" stroke-linejoin="miter" textLength="19.80" lengthAdjust="spacingAndGlyphs" style="font-family:'Liberation Sans',sans-serif" >B</text><text x="552.67" y="205.40" font-size="55.5" fill="#0d1e3b" stroke="#0d1e3b" stroke-width="2.60" stroke-linejoin="miter" textLength="14.89" lengthAdjust="spacingAndGlyphs" style="font-family:'Liberation Sans',sans-serif" >E</text><text x="572.09" y="205.40" font-size="55.5" fill="#0d1e3b" stroke="#0d1e3b" stroke-width="2.60" stroke-linejoin="miter" textLength="18.61" lengthAdjust="spacingAndGlyphs" style="font-family:'Liberation Sans',sans-serif" >R</text><text x="610.86" y="205.40" font-size="55.5" fill="#0d1e3b" stroke="#0d1e3b" stroke-width="2.60" stroke-linejoin="miter" textLength="19.29" lengthAdjust="spacingAndGlyphs" style="font-family:'Liberation Sans',sans-serif" >2</text><text x="635.75" y="205.40" font-size="55.5" fill="#0d1e3b" stroke="#0d1e3b" stroke-width="2.60" stroke-linejoin="miter" textLength="17.80" lengthAdjust="spacingAndGlyphs" style="font-family:'Liberation Sans',sans-serif" >0</text><text x="659.27" y="205.40" font-size="55.5" fill="#0d1e3b" stroke="#0d1e3b" stroke-width="2.60" stroke-linejoin="miter" textLength="18.07" lengthAdjust="spacingAndGlyphs" style="font-family:'Liberation Sans',sans-serif" >2</text><text x="682.56" y="205.40" font-size="55.5" fill="#0d1e3b" stroke="#0d1e3b" stroke-width="2.60" stroke-linejoin="miter" textLength="17.99" lengthAdjust="spacingAndGlyphs" style="font-family:'Liberation Sans',sans-serif" >4</text><text x="1120.69" y="189.00" font-size="29.5" fill="#1b4a5b" stroke="#1b4a5b" stroke-width="0.50" stroke-linejoin="miter" textLength="149.01" lengthAdjust="spacingAndGlyphs" style="font-family:'Liberation Sans',sans-serif" >demoskop</text><path d="M1237.5,200 Q1262,218 1283.5,183" fill="none" stroke="#8e2a34" stroke-width="3.2" stroke-linecap="round"/><path d="M1277,183 L1283.5,172.5 L1290,183.5 Z" fill="#8e2a34"/><rect x="227.3" y="659.9" width="110" height="246.6" fill="#a54c4b"/><text x="238.39" y="652.60" font-size="64.5" font-weight="bold" fill="#0d1e3b" stroke="#0d1e3b" stroke-width="2.00" stroke-linejoin="miter" textLength="54.94" lengthAdjust="spacingAndGlyphs" style="font-family:'Liberation Sans',sans-serif" >20</text><text x="297.10" y="652.60" font-size="41.0" font-weight="bold" fill="#0d1e3b" stroke="#0d1e3b" stroke-width="1.20" stroke-linejoin="miter" textLength="28.44" lengthAdjust="spacingAndGlyphs" style="font-family:'Liberation Sans',sans-serif" >%</text><text x="257.92" y="694.20" font-size="36.5" font-weight="bold" fill="#0d1e3b" stroke="#0d1e3b" stroke-width="1.20" stroke-linejoin="miter" textLength="9.20" lengthAdjust="spacingAndGlyphs" style="font-family:'Liberation Sans',sans-serif" fill-opacity="0.9" stroke-opacity="0.9">(</text><text x="296.17" y="694.20" font-size="36.5" font-weight="bold" fill="#0d1e3b" stroke="#0d1e3b" stroke-width="1.20" stroke-linejoin="miter" textLength="9.20" lengthAdjust="spacingAndGlyphs" style="font-family:'Liberation Sans',sans-serif" fill-opacity="0.9" stroke-opacity="0.9">)</text><text x="270.17" y="691.70" font-size="31.0" font-weight="bold" fill="#0d1e3b" stroke="#0d1e3b" stroke-width="1.00" stroke-linejoin="miter" textLength="23.38" lengthAdjust="spacingAndGlyphs" style="font-family:'Liberation Sans',sans-serif" fill-opacity="0.9" stroke-opacity="0.9">-3</text><rect x="366.3" y="340.6" width="110" height="565.9" fill="#fe5b5c"/><text x="376.66" y="333.32" font-size="64.5" font-weight="bold" fill="#0d1e3b" stroke="#0d1e3b" stroke-width="2.00" stroke-linejoin="miter" textLength="54.30" lengthAdjust="spacingAndGlyphs" style="font-family:'Liberation Sans',sans-serif" >46</text><text x="435.09" y="333.32" font-size="41.0" font-weight="bold" fill="#0d1e3b" stroke="#0d1e3b" stroke-width="1.20" stroke-linejoin="miter" textLength="29.08" lengthAdjust="spacingAndGlyphs" style="font-family:'Liberation Sans',sans-serif" >%</text><text x="396.42" y="374.92" font-size="36.5" font-weight="bold" fill="#0d1e3b" stroke="#0d1e3b" stroke-width="1.20" stroke-linejoin="miter" textLength="9.20" lengthAdjust="spacingAndGlyphs" style="font-family:'Liberation Sans',sans-serif" fill-opacity="0.9" stroke-opacity="0.9">(</text><text x="434.17" y="374.92" font-size="36.5" font-weight="bold" fill="#0d1e3b" stroke="#0d1e3b" stroke-width="1.20" stroke-linejoin="miter" textLength="9.20" lengthAdjust="spacingAndGlyphs" style="font-family:'Liberation Sans',sans-serif" fill-opacity="0.9" stroke-opacity="0.9">)</text><text x="408.71" y="372.42" font-size="31.0" font-weight="bold" fill="#0d1e3b" stroke="#0d1e3b" stroke-width="1.00" stroke-linejoin="miter" textLength="22.60" lengthAdjust="spacingAndGlyphs" style="font-family:'Liberation Sans',sans-serif" fill-opacity="0.9" stroke-opacity="0.9">-1</text><rect x="505.3" y="758.1" width="110" height="148.4" fill="#238a4b"/><text x="519.70" y="750.84" font-size="64.5" font-weight="bold" fill="#0d1e3b" stroke="#0d1e3b" stroke-width="2.00" stroke-linejoin="miter" textLength="51.25" lengthAdjust="spacingAndGlyphs" style="font-family:'Liberation Sans',sans-serif" >12</text><text x="572.28" y="750.84" font-size="41.0" font-weight="bold" fill="#0d1e3b" stroke="#0d1e3b" stroke-width="1.20" stroke-linejoin="miter" textLength="29.18" lengthAdjust="spacingAndGlyphs" style="font-family:'Liberation Sans',sans-serif" >%</text><text x="534.12" y="792.44" font-size="36.5" font-weight="bold" fill="#0d1e3b" stroke="#0d1e3b" stroke-width="1.20" stroke-linejoin="miter" textLength="9.20" lengthAdjust="spacingAndGlyphs" style="font-family:'Liberation Sans',sans-serif" fill-opacity="0.9" stroke-opacity="0.9">(</text><text x="573.87" y="792.44" font-size="36.5" font-weight="bold" fill="#0d1e3b" stroke="#0d1e3b" stroke-width="1.20" stroke-linejoin="miter" textLength="9.20" lengthAdjust="spacingAndGlyphs" style="font-family:'Liberation Sans',sans-serif" fill-opacity="0.9" stroke-opacity="0.9">)</text><text x="546.31" y="789.94" font-size="31.0" font-weight="bold" fill="#0d1e3b" stroke="#0d1e3b" stroke-width="1.00" stroke-linejoin="miter" textLength="24.76" lengthAdjust="spacingAndGlyphs" style="font-family:'Liberation Sans',sans-serif" fill-opacity="0.9" stroke-opacity="0.9">-1</text><rect x="644.3" y="635.3" width="110" height="271.2" fill="#238a4b"/><text x="654.34" y="628.04" font-size="64.5" font-weight="bold" fill="#0d1e3b" stroke="#0d1e3b" stroke-width="2.00" stroke-linejoin="miter" textLength="56.49" lengthAdjust="spacingAndGlyphs" style="font-family:'Liberation Sans',sans-serif" >22</text><text x="712.01" y="628.04" font-size="41.0" font-weight="bold" fill="#0d1e3b" stroke="#0d1e3b" stroke-width="1.20" stroke-linejoin="miter" textLength="28.33" lengthAdjust="spacingAndGlyphs" style="font-family:'Liberation Sans',sans-serif" >%</text><text x="668.92" y="669.64" font-size="36.5" font-weight="bold" fill="#0d1e3b" stroke="#0d1e3b" stroke-width="1.20" stroke-linejoin="miter" textLength="9.20" lengthAdjust="spacingAndGlyphs" style="font-family:'Liberation Sans',sans-serif" fill-opacity="0.9" stroke-opacity="0.9">(</text><text x="717.07" y="669.64" font-size="36.5" font-weight="bold" fill="#0d1e3b" stroke="#0d1e3b" stroke-width="1.20" stroke-linejoin="miter" textLength="9.20" lengthAdjust="spacingAndGlyphs" style="font-family:'Liberation Sans',sans-serif" fill-opacity="0.9" stroke-opacity="0.9">)</text><text x="680.96" y="667.14" font-size="31.0" font-weight="bold" fill="#0d1e3b" stroke="#0d1e3b" stroke-width="1.00" stroke-linejoin="miter" textLength="33.60" lengthAdjust="spacingAndGlyphs" style="font-family:'Liberation Sans',sans-serif" fill-opacity="0.9" stroke-opacity="0.9">+3</text><rect x="783.3" y="795.0" width="110" height="111.5" fill="#23763f"/><text x="808.95" y="787.68" font-size="64.5" font-weight="bold" fill="#0d1e3b" stroke="#0d1e3b" stroke-width="2.00" stroke-linejoin="miter" textLength="28.02" lengthAdjust="spacingAndGlyphs" style="font-family:'Liberation Sans',sans-serif" >9</text><text x="838.67" y="787.68" font-size="41.0" font-weight="bold" fill="#0d1e3b" stroke="#0d1e3b" stroke-width="1.20" stroke-linejoin="miter" textLength="29.61" lengthAdjust="spacingAndGlyphs" style="font-family:'Liberation Sans',sans-serif" >%</text><text x="814.52" y="829.28" font-size="36.5" font-weight="bold" fill="#0d1e3b" stroke="#0d1e3b" stroke-width="1.20" stroke-linejoin="miter" textLength="9.20" lengthAdjust="spacingAndGlyphs" style="font-family:'Liberation Sans',sans-serif" fill-opacity="0.9" stroke-opacity="0.9">(</text><text x="853.97" y="829.28" font-size="36.5" font-weight="bold" fill="#0d1e3b" stroke="#0d1e3b" stroke-width="1.20" stroke-linejoin="miter" textLength="9.20" lengthAdjust="spacingAndGlyphs" style="font-family:'Liberation Sans',sans-serif" fill-opacity="0.9" stroke-opacity="0.9">)</text><text x="826.71" y="826.78" font-size="31.0" font-weight="bold" fill="#0d1e3b" stroke="#0d1e3b" stroke-width="1.00" stroke-linejoin="miter" textLength="24.81" lengthAdjust="spacingAndGlyphs" style="font-family:'Liberation Sans',sans-serif" fill-opacity="0.9" stroke-opacity="0.9">-2</text><rect x="922.3" y="733.6" width="110" height="172.9" fill="#4e6e9b"/><text x="933.45" y="726.28" font-size="64.5" font-weight="bold" fill="#0d1e3b" stroke="#0d1e3b" stroke-width="2.00" stroke-linejoin="miter" textLength="48.59" lengthAdjust="spacingAndGlyphs" style="font-family:'Liberation Sans',sans-serif" >14</text><text x="986.50" y="726.28" font-size="41.0" font-weight="bold" fill="#0d1e3b" stroke="#0d1e3b" stroke-width="1.20" stroke-linejoin="miter" textLength="28.44" lengthAdjust="spacingAndGlyphs" style="font-family:'Liberation Sans',sans-serif" >%</text><text x="947.82" y="767.88" font-size="36.5" font-weight="bold" fill="#0d1e3b" stroke="#0d1e3b" stroke-width="1.20" stroke-linejoin="miter" textLength="9.20" lengthAdjust="spacingAndGlyphs" style="font-family:'Liberation Sans',sans-serif" fill-opacity="0.9" stroke-opacity="0.9">(</text><text x="987.27" y="767.88" font-size="36.5" font-weight="bold" fill="#0d1e3b" stroke="#0d1e3b" stroke-width="1.20" stroke-linejoin="miter" textLength="9.20" lengthAdjust="spacingAndGlyphs" style="font-family:'Liberation Sans',sans-serif" fill-opacity="0.9" stroke-opacity="0.9">)</text><text x="960.01" y="765.38" font-size="31.0" font-weight="bold" fill="#0d1e3b" stroke="#0d1e3b" stroke-width="1.00" stroke-linejoin="miter" textLength="24.81" lengthAdjust="spacingAndGlyphs" style="font-family:'Liberation Sans',sans-serif" fill-opacity="0.9" stroke-opacity="0.9">-2</text><rect x="1061.3" y="561.7" width="110" height="344.8" fill="#3f526e"/><text x="1070.59" y="554.36" font-size="64.5" font-weight="bold" fill="#0d1e3b" stroke="#0d1e3b" stroke-width="2.00" stroke-linejoin="miter" textLength="54.93" lengthAdjust="spacingAndGlyphs" style="font-family:'Liberation Sans',sans-serif" >28</text><text x="1128.79" y="554.36" font-size="41.0" font-weight="bold" fill="#0d1e3b" stroke="#0d1e3b" stroke-width="1.20" stroke-linejoin="miter" textLength="28.97" lengthAdjust="spacingAndGlyphs" style="font-family:'Liberation Sans',sans-serif" >%</text><text x="1080.52" y="595.96" font-size="36.5" font-weight="bold" fill="#0d1e3b" stroke="#0d1e3b" stroke-width="1.20" stroke-linejoin="miter" textLength="9.20" lengthAdjust="spacingAndGlyphs" style="font-family:'Liberation Sans',sans-serif" fill-opacity="0.9" stroke-opacity="0.9">(</text><text x="1138.47" y="595.96" font-size="36.5" font-weight="bold" fill="#0d1e3b" stroke="#0d1e3b" stroke-width="1.20" stroke-linejoin="miter" textLength="9.20" lengthAdjust="spacingAndGlyphs" style="font-family:'Liberation Sans',sans-serif" fill-opacity="0.9" stroke-opacity="0.9">)</text><text x="1092.56" y="593.46" font-size="31.0" font-weight="bold" fill="#0d1e3b" stroke="#0d1e3b" stroke-width="1.00" stroke-linejoin="miter" textLength="43.55" lengthAdjust="spacingAndGlyphs" style="font-family:'Liberation Sans',sans-serif" fill-opacity="0.9" stroke-opacity="0.9">+-0</text><rect x="1200.3" y="426.6" width="110" height="479.9" fill="#3a98d5"/><text x="1211.66" y="419.28" font-size="64.5" font-weight="bold" fill="#0d1e3b" stroke="#0d1e3b" stroke-width="2.00" stroke-linejoin="miter" textLength="60.04" lengthAdjust="spacingAndGlyphs" style="font-family:'Liberation Sans',sans-serif" >39</text><text x="1271.82" y="419.28" font-size="41.0" font-weight="bold" fill="#0d1e3b" stroke="#0d1e3b" stroke-width="1.20" stroke-linejoin="miter" textLength="27.91" lengthAdjust="spacingAndGlyphs" style="font-family:'Liberation Sans',sans-serif" >%</text><text x="1231.42" y="460.88" font-size="36.5" font-weight="bold" fill="#0d1e3b" stroke="#0d1e3b" stroke-width="1.20" stroke-linejoin="miter" textLength="9.20" lengthAdjust="spacingAndGlyphs" style="font-family:'Liberation Sans',sans-serif" fill-opacity="0.9" stroke-opacity="0.9">(</text><text x="1270.17" y="460.88" font-size="36.5" font-weight="bold" fill="#0d1e3b" stroke="#0d1e3b" stroke-width="1.20" stroke-linejoin="miter" textLength="9.20" lengthAdjust="spacingAndGlyphs" style="font-family:'Liberation Sans',sans-serif" fill-opacity="0.9" stroke-opacity="0.9">)</text><text x="1243.66" y="458.38" font-size="31.0" font-weight="bold" fill="#0d1e3b" stroke="#0d1e3b" stroke-width="1.00" stroke-linejoin="miter" textLength="23.68" lengthAdjust="spacingAndGlyphs" style="font-family:'Liberation Sans',sans-serif" fill-opacity="0.9" stroke-opacity="0.9">-1</text><rect x="1339.3" y="488.0" width="110" height="418.5" fill="#e0b548"/><text x="1350.14" y="480.68" font-size="64.5" font-weight="bold" fill="#0d1e3b" stroke="#0d1e3b" stroke-width="2.00" stroke-linejoin="miter" textLength="56.23" lengthAdjust="spacingAndGlyphs" style="font-family:'Liberation Sans',sans-serif" >34</text><text x="1407.77" y="480.68" font-size="41.0" font-weight="bold" fill="#0d1e3b" stroke="#0d1e3b" stroke-width="1.20" stroke-linejoin="miter" textLength="29.50" lengthAdjust="spacingAndGlyphs" style="font-family:'Liberation Sans',sans-serif" >%</text><text x="1368.52" y="522.28" font-size="36.5" font-weight="bold" fill="#0d1e3b" stroke="#0d1e3b" stroke-width="1.20" stroke-linejoin="miter" textLength="9.20" lengthAdjust="spacingAndGlyphs" style="font-family:'Liberation Sans',sans-serif" fill-opacity="0.9" stroke-opacity="0.9">(</text><text x="1408.67" y="522.28" font-size="36.5" font-weight="bold" fill="#0d1e3b" stroke="#0d1e3b" stroke-width="1.20" stroke-linejoin="miter" textLength="9.20" lengthAdjust="spacingAndGlyphs" style="font-family:'Liberation Sans',sans-serif" fill-opacity="0.9" stroke-opacity="0.9">)</text><text x="1380.68" y="519.78" font-size="31.0" font-weight="bold" fill="#0d1e3b" stroke="#0d1e3b" stroke-width="1.00" stroke-linejoin="miter" textLength="25.58" lengthAdjust="spacingAndGlyphs" style="font-family:'Liberation Sans',sans-serif" fill-opacity="0.9" stroke-opacity="0.9">-2</text><g transform="translate(283.3,963.5)"><circle r="45.5" fill="#f4d0cc"/><g clip-path="url(#c0)"><g filter="url(#soft)"><rect x="-45.0" y="-45.0" width="90.0" height="90.0" fill="#d65e5a" /><rect x="-40.0" y="-18.0" width="5.0" height="26.0" fill="#f0c8c0" /><path d="M-31,45 C-35,10 -31,-22 -20,-37 C-10,-46 20,-46 28,-32 C38,-14 35,20 38,45 Z" fill="#2e1d1c" /><path d="M-31,45 C-35,15 -33,-10 -26,-28 C-19,-10 -20,20 -16,45 Z" fill="#5c2826" /><path d="M-7,20 C0,30 10,30 15,20 L16,45 L-8,45 Z" fill="#c09080" /><path d="M-12,34 C0,30 12,30 20,34 L22,45 L-14,45 Z" fill="#3e3433" /><ellipse cx="2.5" cy="-7.0" rx="11.5" ry="24.0" fill="#d6ab9c" /><path d="M-9,-31 C-3,-41 10,-41 15,-31 C9,-35 2,-33 -9,-26 Z" fill="#2e1d1c" /><path d="M-12,-12 C-10,10 -12,25 -16,40 L-24,40 C-20,20 -18,0 -12,-12 Z" fill="#2e1d1c" /><rect x="-6.5" y="-10.1" width="7.0" height="2.2" fill="#3a2420" /><rect x="5.5" y="-10.1" width="7.0" height="2.2" fill="#3a2420" /><rect x="-1.5" y="7.0" width="9.0" height="2.0" fill="#9a6458" /></g></g><circle r="42.5" fill="none" stroke="#a54c4b" stroke-width="3.2"/><circle cx="-30" cy="39" r="22" fill="#f4d0cc" fill-opacity="0.7"/><circle cx="-30" cy="39" r="20.5" fill="#a54c4b"/><text x="-30" y="46" font-size="21" fill="#ffecec" stroke="#ffecec" stroke-width="0.6" text-anchor="middle" textLength="17.5" lengthAdjust="spacingAndGlyphs" style="font-family:'Liberation Sans',sans-serif">V</text></g><g transform="translate(422.3,963.5)"><circle r="45.5" fill="#ffc8c8"/><g clip-path="url(#c1)"><g filter="url(#soft)"><rect x="-45.0" y="-45.0" width="90.0" height="90.0" fill="#e6d4c8" /><rect x="-45.0" y="-34.0" width="19.0" height="62.0" fill="#1f2a4c" /><path d="M-30,30 C-33,0 -29,-31 -8,-39 C12,-45 36,-37 39,-10 C41,8 38,24 34,40 L-24,40 Z" fill="#cfb78e" /><path d="M-8,16 C2,28 16,28 22,16 L28,45 L-14,45 Z" fill="#dcb7a0" /><rect x="-7.0" y="32.0" width="10.0" height="13.0" fill="#5656a4" /><ellipse cx="6.0" cy="-1.0" rx="22.0" ry="26.0" fill="#e3c3ab" /><path d="M-16,-14 C-12,-30 10,-35 24,-29 C30,-23 31,-14 29,-8 C20,-22 0,-26 -16,-14 Z" fill="#cfb78e" /><rect x="-6.0" y="-8.0" width="9.0" height="2.2" fill="#9a7060" /><rect x="10.0" y="-9.0" width="9.0" height="2.2" fill="#9a7060" /><rect x="0.0" y="12.0" width="12.0" height="2.0" fill="#b08070" /></g></g><circle r="42.5" fill="none" stroke="#ee5d62" stroke-width="3.2"/><circle cx="-30" cy="39" r="22" fill="#ffc8c8" fill-opacity="0.7"/><circle cx="-30" cy="39" r="20.5" fill="#f25a5e"/><text x="-30" y="46" font-size="21" fill="#fff0f0" stroke="#fff0f0" stroke-width="0.6" text-anchor="middle" textLength="12.5" lengthAdjust="spacingAndGlyphs" style="font-family:'Liberation Sans',sans-serif">S</text></g><g transform="translate(561.3,963.5)"><circle r="45.5" fill="#c8f0d0"/><g clip-path="url(#c2)"><g filter="url(#soft)"><rect x="-45.0" y="-45.0" width="90.0" height="90.0" fill="#d4d8d8" /><rect x="-35.0" y="-45.0" width="11.0" height="90.0" fill="#a6a7a8" /><rect x="23.0" y="-45.0" width="13.0" height="90.0" fill="#b4bbc2" /><path d="M20,22 L45,14 L45,45 L14,45 Z" fill="#2b2d31" /><ellipse cx="4.0" cy="-4.0" rx="26.0" ry="33.0" fill="#958b88" /><ellipse cx="4.0" cy="-1.5" rx="22.0" ry="31.0" fill="#c89c8a" /><path d="M-12,-31 C-4,-38 14,-38 22,-29 C12,-33 -2,-33 -12,-27 Z" fill="#dccbc3" /><rect x="-10.0" y="-6.0" width="10.0" height="2.4" fill="#6a4a40" /><rect x="8.0" y="-6.0" width="10.0" height="2.4" fill="#6a4a40" /><path d="M-16,6 C-12,34 22,34 26,6 C22,22 -10,22 -16,6 Z" fill="#d6c6be" /><rect x="-4.0" y="12.0" width="16.0" height="2.2" fill="#8a6054" /></g></g><circle r="42.5" fill="none" stroke="#2f8a52" stroke-width="3.2"/><circle cx="-30" cy="39" r="22" fill="#c8f0d0" fill-opacity="0.7"/><circle cx="-30" cy="39" r="20.5" fill="#238a4b"/><text x="-30" y="46" font-size="21" fill="#d4fadc" stroke="#d4fadc" stroke-width="0.6" text-anchor="middle" textLength="27.0" lengthAdjust="spacingAndGlyphs" style="font-family:'Liberation Sans',sans-serif">MP</text></g><g transform="translate(700.3,963.5)"><circle r="45.5" fill="#c8f0d0"/><g clip-path="url(#c3)"><g filter="url(#soft)"><rect x="-45.0" y="-45.0" width="90.0" height="90.0" fill="#84d684" /><path d="M-45,-45 L-18,-45 L-45,-2 Z" fill="#c6ecbe" /><path d="M-30,2 C-34,-22 -22,-40 2,-40 C26,-40 37,-24 33,-6 C26,-16 18,-22 0,-22 C-16,-22 -24,-12 -30,2 Z" fill="#3c2819" /><path d="M-12,28 C-4,36 10,36 18,28 L26,45 L-20,45 Z" fill="#d9a98c" /><path d="M22,34 L45,26 L45,45 L18,45 Z" fill="#2e5a30" /><ellipse cx="0.5" cy="3.0" rx="22.5" ry="29.5" fill="#e6b89a" /><path d="M-23,-6 C-21,-26 -8,-32 4,-32 C20,-32 28,-22 26,-8 C18,-20 -10,-22 -23,-6 Z" fill="#3c2819" /><rect x="-8.0" y="15.0" width="16.0" height="3.0" fill="#8a4a40" /><rect x="-12.0" y="-5.1" width="8.0" height="2.2" fill="#4a2a20" /><rect x="5.0" y="-5.1" width="8.0" height="2.2" fill="#4a2a20" /></g></g><circle r="42.5" fill="none" stroke="#2f8a52" stroke-width="3.2"/><circle cx="-30" cy="39" r="22" fill="#c8f0d0" fill-opacity="0.7"/><circle cx="-30" cy="39" r="20.5" fill="#238a4b"/><text x="-30" y="46" font-size="21" fill="#d4fadc" stroke="#d4fadc" stroke-width="0.6" text-anchor="middle" textLength="27.0" lengthAdjust="spacingAndGlyphs" style="font-family:'Liberation Sans',sans-serif">MP</text></g><g transform="translate(839.3,963.5)"><circle r="45.5" fill="#c8f0d0"/><g clip-path="url(#c4)"><g filter="url(#soft)"><rect x="-45.0" y="-45.0" width="90.0" height="90.0" fill="#a2a098" /><rect x="18.0" y="-38.0" width="27.0" height="80.0" fill="#8a4a32" /><rect x="-45.0" y="-3.0" width="27.0" height="8.0" fill="#4e4840" /><path d="M-34,45 C-26,30 -10,24 0,29 C12,24 28,28 36,45 Z" fill="#2b313a" /><path d="M-9,28 L9,28 L5,45 L-5,45 Z" fill="#d8e0ec" /><ellipse cx="1.6" cy="-3.0" rx="20.0" ry="28.0" fill="#d4a48a" /><path d="M-18,-2 C-17,26 20,28 21,-2 C17,11 10,8 1.6,8 C-7,8 -14,11 -18,-2 Z" fill="#7a4c3c" /><path d="M-21.0,-14.0 C-22.0,-33.0 -11.5,-41.0 0.5,-41.0 C12.5,-41.0 23.0,-33.0 22.0,-14.0 C14.0,-22.0 -13.0,-22.0 -21.0,-14.0 Z" fill="#2b2321" /><rect x="-11.0" y="-9.1" width="8.0" height="2.2" fill="#3a2a24" /><rect x="6.0" y="-9.1" width="8.0" height="2.2" fill="#3a2a24" /></g></g><circle r="42.5" fill="none" stroke="#2c7c48" stroke-width="3.2"/><circle cx="-30" cy="39" r="22" fill="#c8f0d0" fill-opacity="0.7"/><circle cx="-30" cy="39" r="20.5" fill="#248549"/><text x="-30" y="46" font-size="21" fill="#c8f6d2" stroke="#c8f6d2" stroke-width="0.6" text-anchor="middle" textLength="12.5" lengthAdjust="spacingAndGlyphs" style="font-family:'Liberation Sans',sans-serif">C</text></g><g transform="translate(978.3,963.5)"><circle r="45.5" fill="#c8dcf4"/><g clip-path="url(#c5)"><g filter="url(#soft)"><rect x="-45.0" y="-45.0" width="90.0" height="90.0" fill="#9ac8f0" /><rect x="-45.0" y="-16.0" width="26.0" height="5.0" fill="#cfe4f6" /><path d="M12,30 C20,30 30,26 36,22 L40,45 L8,45 Z" fill="#f0e8ea" /><ellipse cx="6.0" cy="-2.0" rx="23.0" ry="34.0" fill="#d89c8a" /><path d="M-12,8 C-10,34 22,36 26,8 C22,24 -6,24 -12,8 Z" fill="#dfcbbf" /><path d="M-17.0,-18.0 C-18.0,-33.0 -5.5,-41.0 6.5,-41.0 C18.5,-41.0 31.0,-33.0 30.0,-18.0 C22.0,-28.0 -9.0,-28.0 -17.0,-18.0 Z" fill="#dccbbb" /><rect x="-7.0" y="-7.1" width="8.0" height="2.2" fill="#6a4038" /><rect x="11.0" y="-7.1" width="8.0" height="2.2" fill="#6a4038" /><rect x="1.0" y="13.0" width="10.0" height="2.0" fill="#9a6458" /></g></g><circle r="42.5" fill="none" stroke="#4a6b94" stroke-width="3.2"/><circle cx="-30" cy="39" r="22" fill="#c8dcf4" fill-opacity="0.7"/><circle cx="-30" cy="39" r="20.5" fill="#4e6e9b"/><text x="-30" y="46" font-size="21" fill="#f4f8ff" stroke="#f4f8ff" stroke-width="0.6" text-anchor="middle" textLength="12.5" lengthAdjust="spacingAndGlyphs" style="font-family:'Liberation Sans',sans-serif">L</text></g><g transform="translate(1117.3,963.5)"><circle r="45.5" fill="#c8d4e4"/><g clip-path="url(#c6)"><g filter="url(#soft)"><rect x="-45.0" y="-45.0" width="90.0" height="90.0" fill="#b9d5f4" /><path d="M-30,14 C-34,-20 -24,-41 -2,-43 C20,-43 34,-30 34,-2 C34,18 38,34 36,45 L18,45 C20,22 14,4 8,-8 C0,-20 -18,-8 -30,14 Z" fill="#b89c7a" /><path d="M-30,-40 C-20,-47 -4,-47 4,-41 C-8,-37 -18,-31 -25,-22 Z" fill="#303448" /><path d="M18,10 C24,20 30,30 30,45 L20,45 Z" fill="#d6ba8a" /><path d="M-12,15 C-4,12 12,12 21,15 L24,45 L-16,45 Z" fill="#10141f" /><ellipse cx="-4.0" cy="-5.0" rx="19.0" ry="23.0" fill="#e2bcaa" /><path d="M-19,-10 C-17,-27 -5,-33 8,-31 C-2,-27 -10,-20 -19,-10 Z" fill="#b89c7a" /><rect x="-9.0" y="7.0" width="12.0" height="3.0" fill="#9a6050" /><rect x="-14.5" y="-11.1" width="7.0" height="2.2" fill="#6a4a40" /><rect x="0.5" y="-11.1" width="7.0" height="2.2" fill="#6a4a40" /></g></g><circle r="42.5" fill="none" stroke="#35475f" stroke-width="3.2"/><circle cx="-30" cy="39" r="22" fill="#c8d4e4" fill-opacity="0.7"/><circle cx="-30" cy="39" r="20.5" fill="#3f526e"/><text x="-30" y="46" font-size="21" fill="#eef2fa" stroke="#eef2fa" stroke-width="0.6" text-anchor="middle" textLength="27.0" lengthAdjust="spacingAndGlyphs" style="font-family:'Liberation Sans',sans-serif">KD</text></g><g transform="translate(1256.3,963.5)"><circle r="45.5" fill="#c8ecfc"/><g clip-path="url(#c7)"><g filter="url(#soft)"><rect x="-45.0" y="-45.0" width="90.0" height="90.0" fill="#3a89e0" /><rect x="14.0" y="-45.0" width="31.0" height="90.0" fill="#7ccaf4" /><path d="M-42,45 C-32,26 -18,20 -4,22 C10,20 30,22 42,45 Z" fill="#303840" /><path d="M-10,20 L16,20 L9,45 L-1,45 Z" fill="#f4eeee" /><ellipse cx="-19.0" cy="0.0" rx="3.0" ry="6.0" fill="#b88070" /><ellipse cx="22.0" cy="0.0" rx="3.0" ry="6.0" fill="#b88070" /><ellipse cx="1.5" cy="1.0" rx="19.5" ry="29.0" fill="#c69282" /><path d="M-19.0,-20.0 C-20.0,-32.0 -10.5,-40.0 1.5,-40.0 C13.5,-40.0 23.0,-32.0 22.0,-20.0 C14.0,-26.0 -11.0,-26.0 -19.0,-20.0 Z" fill="#2e2828" /><path d="M-14,-9 L18,-9" fill="none" stroke="#5a403a" stroke-width="1.4"/><rect x="-10.5" y="-8.1" width="7.0" height="2.2" fill="#4a3028" /><rect x="6.5" y="-8.1" width="7.0" height="2.2" fill="#4a3028" /><rect x="-3.5" y="14.0" width="10.0" height="2.0" fill="#9a6458" /></g></g><circle r="42.5" fill="none" stroke="#3a91d2" stroke-width="3.2"/><circle cx="-30" cy="39" r="22" fill="#c8ecfc" fill-opacity="0.7"/><circle cx="-30" cy="39" r="20.5" fill="#3a98d5"/><text x="-30" y="46" font-size="21" fill="#e4f6ff" stroke="#e4f6ff" stroke-width="0.6" text-anchor="middle" textLength="17.5" lengthAdjust="spacingAndGlyphs" style="font-family:'Liberation Sans',sans-serif">M</text></g><g transform="translate(1395.3,963.5)"><circle r="45.5" fill="#fff0c0"/><g clip-path="url(#c8)"><g filter="url(#soft)"><rect x="-45.0" y="-45.0" width="90.0" height="90.0" fill="#c0a070" /><rect x="-45.0" y="-45.0" width="17.0" height="90.0" fill="#6e5c4a" /><path d="M-40,-10 C-36,-6 -35,4 -38,12 L-41,12 Z" fill="#201810" /><path d="M-45,45 L-45,34 C-30,22 -14,16 -2,18 C12,10 30,14 45,26 L45,45 Z" fill="#3a3c44" /><path d="M-6,17 L15,14 L9,45 L0,45 Z" fill="#e8e8ec" /><path d="M2,24 L8,24 L7,45 L1,45 Z" fill="#33353c" /><ellipse cx="-5.0" cy="-4.0" rx="21.0" ry="26.0" fill="#caa08e" /><path d="M-25,2 C-25,22 -12,26 -4,26 C6,26 15,20 15,2 C12,11 4,13 -5,13 C-14,13 -22,11 -25,2 Z" fill="#6c4c3c" /><path d="M-27.0,-19.0 C-28.0,-32.0 -16.5,-40.0 -4.5,-40.0 C7.5,-40.0 19.0,-32.0 18.0,-19.0 C10.0,-26.0 -19.0,-26.0 -27.0,-19.0 Z" fill="#3b2b23" /><g fill="none" stroke="#3b2b23" stroke-width="1.8"><rect x="-24" y="-14" width="16" height="9" rx="2"/><rect x="-3" y="-14" width="16" height="9" rx="2"/></g></g></g><circle r="42.5" fill="none" stroke="#d9b55a" stroke-width="3.2"/><circle cx="-30" cy="39" r="22" fill="#fff0c0" fill-opacity="0.7"/><circle cx="-30" cy="39" r="20.5" fill="#dcb446"/><text x="-30" y="46" font-size="21" fill="#fff2b8" stroke="#fff2b8" stroke-width="0.6" text-anchor="middle" textLength="27.0" lengthAdjust="spacingAndGlyphs" style="font-family:'Liberation Sans',sans-serif">SD</text></g><rect x="171.5" y="905.5" width="1309" height="8.5" fill="#0d1e3b"/></svg>
</body></html>
